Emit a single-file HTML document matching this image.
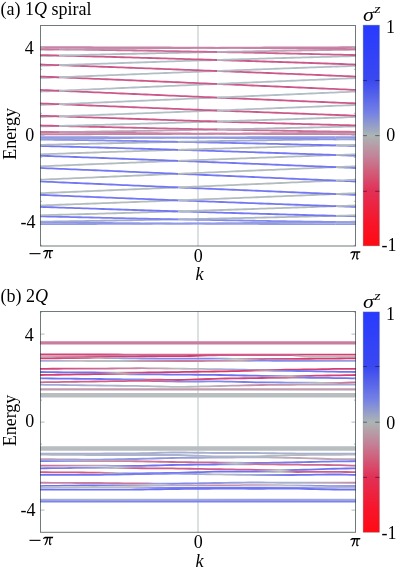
<!DOCTYPE html>
<html><head><meta charset="utf-8"><style>
html,body{margin:0;padding:0;background:#fff;width:397px;height:567px;overflow:hidden}
svg{position:absolute;left:0;top:0;display:block;will-change:transform}
</style></head><body>
<svg width="397" height="567" viewBox="0 0 397 567">
<defs><path id="pi" d="M0.1,2.3 C0.7,1.0 1.6,0.55 3.0,0.55 L9.9,0.55 L9.65,2.05 L7.5,2.05 C7.2,3.9 7.0,5.6 7.2,6.9 C7.35,7.5 7.8,7.5 8.1,7.0 L8.4,7.2 C8.0,8.2 7.4,8.6 6.8,8.45 C6.1,8.25 5.85,7.4 5.85,6.2 C5.85,4.8 6.05,3.4 6.25,2.05 L5.0,2.05 C4.6,4.6 3.7,6.8 2.7,8.2 C2.3,8.8 1.5,8.75 1.55,8.1 C2.55,6.3 3.35,4.3 3.65,2.05 L3.2,2.05 C2.1,2.05 1.2,2.3 0.5,2.7 Z"/><linearGradient id="cb1" x1="0" y1="0" x2="0" y2="1"><stop offset="0.00" stop-color="#283aff"/><stop offset="0.25" stop-color="#3a48f0"/><stop offset="0.40" stop-color="#7682e4"/><stop offset="0.50" stop-color="#acb4b4"/><stop offset="0.60" stop-color="#c48096"/><stop offset="0.75" stop-color="#e23056"/><stop offset="0.90" stop-color="#f81428"/><stop offset="1.00" stop-color="#ff0a14"/></linearGradient><linearGradient id="cb2" x1="0" y1="0" x2="0" y2="1"><stop offset="0.00" stop-color="#283aff"/><stop offset="0.25" stop-color="#3a48f0"/><stop offset="0.40" stop-color="#7682e4"/><stop offset="0.50" stop-color="#acb4b4"/><stop offset="0.60" stop-color="#c48096"/><stop offset="0.75" stop-color="#e23056"/><stop offset="0.90" stop-color="#f81428"/><stop offset="1.00" stop-color="#ff0a14"/></linearGradient><linearGradient id="g1" gradientUnits="userSpaceOnUse" x1="217.00" y1="0" x2="296.00" y2="0"><stop offset="0" stop-color="#c884a6"/><stop offset="0.5" stop-color="#c882a5"/><stop offset="1" stop-color="#c87ea2"/></linearGradient><linearGradient id="g2" gradientUnits="userSpaceOnUse" x1="296.00" y1="0" x2="356.00" y2="0"><stop offset="0" stop-color="#c87ea2"/><stop offset="0.5" stop-color="#c97ba0"/><stop offset="1" stop-color="#c9789e"/></linearGradient><linearGradient id="g3" gradientUnits="userSpaceOnUse" x1="40.00" y1="0" x2="59.00" y2="0"><stop offset="0" stop-color="#c9789e"/><stop offset="0.5" stop-color="#c9779e"/><stop offset="1" stop-color="#c9769d"/></linearGradient><linearGradient id="g4" gradientUnits="userSpaceOnUse" x1="59.00" y1="0" x2="138.00" y2="0"><stop offset="0" stop-color="#c9769d"/><stop offset="0.5" stop-color="#c9739b"/><stop offset="1" stop-color="#c96f98"/></linearGradient><linearGradient id="g5" gradientUnits="userSpaceOnUse" x1="138.00" y1="0" x2="217.00" y2="0"><stop offset="0" stop-color="#c96f98"/><stop offset="0.5" stop-color="#ca6b96"/><stop offset="1" stop-color="#ca6793"/></linearGradient><linearGradient id="g6" gradientUnits="userSpaceOnUse" x1="217.00" y1="0" x2="296.00" y2="0"><stop offset="0" stop-color="#ca6793"/><stop offset="0.5" stop-color="#ca6391"/><stop offset="1" stop-color="#ca608e"/></linearGradient><linearGradient id="g7" gradientUnits="userSpaceOnUse" x1="296.00" y1="0" x2="356.00" y2="0"><stop offset="0" stop-color="#ca608e"/><stop offset="0.5" stop-color="#cb5d8c"/><stop offset="1" stop-color="#cb5a8a"/></linearGradient><linearGradient id="g8" gradientUnits="userSpaceOnUse" x1="40.00" y1="0" x2="59.00" y2="0"><stop offset="0" stop-color="#cb5a8a"/><stop offset="0.5" stop-color="#cb5989"/><stop offset="1" stop-color="#cb5889"/></linearGradient><linearGradient id="g9" gradientUnits="userSpaceOnUse" x1="59.00" y1="0" x2="138.00" y2="0"><stop offset="0" stop-color="#cb5889"/><stop offset="0.5" stop-color="#cb5c8c"/><stop offset="1" stop-color="#ca608e"/></linearGradient><linearGradient id="g10" gradientUnits="userSpaceOnUse" x1="138.00" y1="0" x2="217.00" y2="0"><stop offset="0" stop-color="#ca608e"/><stop offset="0.5" stop-color="#ca6391"/><stop offset="1" stop-color="#ca6793"/></linearGradient><linearGradient id="g11" gradientUnits="userSpaceOnUse" x1="217.00" y1="0" x2="296.00" y2="0"><stop offset="0" stop-color="#ca6793"/><stop offset="0.5" stop-color="#ca6b96"/><stop offset="1" stop-color="#c96f98"/></linearGradient><linearGradient id="g12" gradientUnits="userSpaceOnUse" x1="296.00" y1="0" x2="356.00" y2="0"><stop offset="0" stop-color="#c96f98"/><stop offset="0.5" stop-color="#c9729a"/><stop offset="1" stop-color="#c9759c"/></linearGradient><linearGradient id="g13" gradientUnits="userSpaceOnUse" x1="40.00" y1="0" x2="59.00" y2="0"><stop offset="0" stop-color="#c9759c"/><stop offset="0.5" stop-color="#c9769d"/><stop offset="1" stop-color="#c9769d"/></linearGradient><linearGradient id="g14" gradientUnits="userSpaceOnUse" x1="59.00" y1="0" x2="138.00" y2="0"><stop offset="0" stop-color="#c9769d"/><stop offset="0.5" stop-color="#c97aa0"/><stop offset="1" stop-color="#c87ea2"/></linearGradient><linearGradient id="g15" gradientUnits="userSpaceOnUse" x1="138.00" y1="0" x2="217.00" y2="0"><stop offset="0" stop-color="#c87ea2"/><stop offset="0.5" stop-color="#c882a5"/><stop offset="1" stop-color="#c884a6"/></linearGradient><linearGradient id="g16" gradientUnits="userSpaceOnUse" x1="40.00" y1="0" x2="59.00" y2="0"><stop offset="0" stop-color="#c098b1"/><stop offset="0.5" stop-color="#c197b0"/><stop offset="1" stop-color="#c196b0"/></linearGradient><linearGradient id="g17" gradientUnits="userSpaceOnUse" x1="59.00" y1="0" x2="138.00" y2="0"><stop offset="0" stop-color="#c196b0"/><stop offset="0.5" stop-color="#c391ad"/><stop offset="1" stop-color="#c58caa"/></linearGradient><linearGradient id="g18" gradientUnits="userSpaceOnUse" x1="138.00" y1="0" x2="217.00" y2="0"><stop offset="0" stop-color="#c58caa"/><stop offset="0.5" stop-color="#c787a8"/><stop offset="1" stop-color="#c884a6"/></linearGradient><linearGradient id="g19" gradientUnits="userSpaceOnUse" x1="59.00" y1="0" x2="138.00" y2="0"><stop offset="0" stop-color="#b2bec6"/><stop offset="0.5" stop-color="#b4b9c3"/><stop offset="1" stop-color="#b6b4c0"/></linearGradient><linearGradient id="g20" gradientUnits="userSpaceOnUse" x1="138.00" y1="0" x2="217.00" y2="0"><stop offset="0" stop-color="#b6b4c0"/><stop offset="0.5" stop-color="#b8afbe"/><stop offset="1" stop-color="#baaabb"/></linearGradient><linearGradient id="g21" gradientUnits="userSpaceOnUse" x1="217.00" y1="0" x2="296.00" y2="0"><stop offset="0" stop-color="#baaabb"/><stop offset="0.5" stop-color="#bca5b8"/><stop offset="1" stop-color="#bda0b5"/></linearGradient><linearGradient id="g22" gradientUnits="userSpaceOnUse" x1="296.00" y1="0" x2="356.00" y2="0"><stop offset="0" stop-color="#bda0b5"/><stop offset="0.5" stop-color="#bf9cb3"/><stop offset="1" stop-color="#c098b1"/></linearGradient><linearGradient id="g23" gradientUnits="userSpaceOnUse" x1="40.00" y1="0" x2="59.00" y2="0"><stop offset="0" stop-color="#b3bcc5"/><stop offset="0.5" stop-color="#b2bdc5"/><stop offset="1" stop-color="#b2bec6"/></linearGradient><linearGradient id="g24" gradientUnits="userSpaceOnUse" x1="40.00" y1="0" x2="59.00" y2="0"><stop offset="0" stop-color="#c293af"/><stop offset="0.5" stop-color="#c295af"/><stop offset="1" stop-color="#c196b0"/></linearGradient><linearGradient id="g25" gradientUnits="userSpaceOnUse" x1="59.00" y1="0" x2="138.00" y2="0"><stop offset="0" stop-color="#c196b0"/><stop offset="0.5" stop-color="#bf9bb3"/><stop offset="1" stop-color="#bda0b5"/></linearGradient><linearGradient id="g26" gradientUnits="userSpaceOnUse" x1="138.00" y1="0" x2="217.00" y2="0"><stop offset="0" stop-color="#bda0b5"/><stop offset="0.5" stop-color="#bca5b8"/><stop offset="1" stop-color="#baaabb"/></linearGradient><linearGradient id="g27" gradientUnits="userSpaceOnUse" x1="217.00" y1="0" x2="296.00" y2="0"><stop offset="0" stop-color="#baaabb"/><stop offset="0.5" stop-color="#b8afbe"/><stop offset="1" stop-color="#b6b4c0"/></linearGradient><linearGradient id="g28" gradientUnits="userSpaceOnUse" x1="296.00" y1="0" x2="356.00" y2="0"><stop offset="0" stop-color="#b6b4c0"/><stop offset="0.5" stop-color="#b4b8c3"/><stop offset="1" stop-color="#b3bcc5"/></linearGradient><linearGradient id="g29" gradientUnits="userSpaceOnUse" x1="217.00" y1="0" x2="296.00" y2="0"><stop offset="0" stop-color="#c884a6"/><stop offset="0.5" stop-color="#c787a8"/><stop offset="1" stop-color="#c58caa"/></linearGradient><linearGradient id="g30" gradientUnits="userSpaceOnUse" x1="296.00" y1="0" x2="356.00" y2="0"><stop offset="0" stop-color="#c58caa"/><stop offset="0.5" stop-color="#c490ac"/><stop offset="1" stop-color="#c293af"/></linearGradient><linearGradient id="g31" gradientUnits="userSpaceOnUse" x1="178.00" y1="0" x2="257.00" y2="0"><stop offset="0" stop-color="#919be4"/><stop offset="0.5" stop-color="#9099e5"/><stop offset="1" stop-color="#8d96e6"/></linearGradient><linearGradient id="g32" gradientUnits="userSpaceOnUse" x1="257.00" y1="0" x2="336.00" y2="0"><stop offset="0" stop-color="#8d96e6"/><stop offset="0.5" stop-color="#8b93e7"/><stop offset="1" stop-color="#8890e9"/></linearGradient><linearGradient id="g33" gradientUnits="userSpaceOnUse" x1="336.00" y1="0" x2="356.00" y2="0"><stop offset="0" stop-color="#8890e9"/><stop offset="0.5" stop-color="#878fe9"/><stop offset="1" stop-color="#878ee9"/></linearGradient><linearGradient id="g34" gradientUnits="userSpaceOnUse" x1="40.00" y1="0" x2="99.00" y2="0"><stop offset="0" stop-color="#878ee9"/><stop offset="0.5" stop-color="#858cea"/><stop offset="1" stop-color="#838aeb"/></linearGradient><linearGradient id="g35" gradientUnits="userSpaceOnUse" x1="99.00" y1="0" x2="178.00" y2="0"><stop offset="0" stop-color="#838aeb"/><stop offset="0.5" stop-color="#8187ed"/><stop offset="1" stop-color="#7e83ee"/></linearGradient><linearGradient id="g36" gradientUnits="userSpaceOnUse" x1="178.00" y1="0" x2="257.00" y2="0"><stop offset="0" stop-color="#7e83ee"/><stop offset="0.5" stop-color="#7c80ef"/><stop offset="1" stop-color="#797df0"/></linearGradient><linearGradient id="g37" gradientUnits="userSpaceOnUse" x1="257.00" y1="0" x2="336.00" y2="0"><stop offset="0" stop-color="#797df0"/><stop offset="0.5" stop-color="#767af2"/><stop offset="1" stop-color="#7477f3"/></linearGradient><linearGradient id="g38" gradientUnits="userSpaceOnUse" x1="336.00" y1="0" x2="356.00" y2="0"><stop offset="0" stop-color="#7477f3"/><stop offset="0.5" stop-color="#7578f3"/><stop offset="1" stop-color="#7579f2"/></linearGradient><linearGradient id="g39" gradientUnits="userSpaceOnUse" x1="40.00" y1="0" x2="99.00" y2="0"><stop offset="0" stop-color="#7579f2"/><stop offset="0.5" stop-color="#777bf1"/><stop offset="1" stop-color="#797df0"/></linearGradient><linearGradient id="g40" gradientUnits="userSpaceOnUse" x1="99.00" y1="0" x2="178.00" y2="0"><stop offset="0" stop-color="#797df0"/><stop offset="0.5" stop-color="#7c80ef"/><stop offset="1" stop-color="#7e83ee"/></linearGradient><linearGradient id="g41" gradientUnits="userSpaceOnUse" x1="178.00" y1="0" x2="257.00" y2="0"><stop offset="0" stop-color="#7e83ee"/><stop offset="0.5" stop-color="#8187ed"/><stop offset="1" stop-color="#838aeb"/></linearGradient><linearGradient id="g42" gradientUnits="userSpaceOnUse" x1="257.00" y1="0" x2="336.00" y2="0"><stop offset="0" stop-color="#838aeb"/><stop offset="0.5" stop-color="#868dea"/><stop offset="1" stop-color="#8890e9"/></linearGradient><linearGradient id="g43" gradientUnits="userSpaceOnUse" x1="336.00" y1="0" x2="356.00" y2="0"><stop offset="0" stop-color="#8890e9"/><stop offset="0.5" stop-color="#8991e8"/><stop offset="1" stop-color="#8992e8"/></linearGradient><linearGradient id="g44" gradientUnits="userSpaceOnUse" x1="40.00" y1="0" x2="99.00" y2="0"><stop offset="0" stop-color="#8991e8"/><stop offset="0.5" stop-color="#8b94e7"/><stop offset="1" stop-color="#8d96e6"/></linearGradient><linearGradient id="g45" gradientUnits="userSpaceOnUse" x1="99.00" y1="0" x2="178.00" y2="0"><stop offset="0" stop-color="#8d96e6"/><stop offset="0.5" stop-color="#9099e5"/><stop offset="1" stop-color="#919be4"/></linearGradient><linearGradient id="g46" gradientUnits="userSpaceOnUse" x1="40.00" y1="0" x2="99.00" y2="0"><stop offset="0" stop-color="#9aa3da"/><stop offset="0.5" stop-color="#97a1dc"/><stop offset="1" stop-color="#959fdf"/></linearGradient><linearGradient id="g47" gradientUnits="userSpaceOnUse" x1="99.00" y1="0" x2="178.00" y2="0"><stop offset="0" stop-color="#959fdf"/><stop offset="0.5" stop-color="#939de2"/><stop offset="1" stop-color="#919be4"/></linearGradient><linearGradient id="g48" gradientUnits="userSpaceOnUse" x1="40.00" y1="0" x2="99.00" y2="0"><stop offset="0" stop-color="#b1babf"/><stop offset="0.5" stop-color="#aeb7c1"/><stop offset="1" stop-color="#acb5c4"/></linearGradient><linearGradient id="g49" gradientUnits="userSpaceOnUse" x1="99.00" y1="0" x2="178.00" y2="0"><stop offset="0" stop-color="#acb5c4"/><stop offset="0.5" stop-color="#a9b3c7"/><stop offset="1" stop-color="#a7b0ca"/></linearGradient><linearGradient id="g50" gradientUnits="userSpaceOnUse" x1="178.00" y1="0" x2="257.00" y2="0"><stop offset="0" stop-color="#a7b0ca"/><stop offset="0.5" stop-color="#a4adce"/><stop offset="1" stop-color="#a1aad1"/></linearGradient><linearGradient id="g51" gradientUnits="userSpaceOnUse" x1="257.00" y1="0" x2="336.00" y2="0"><stop offset="0" stop-color="#a1aad1"/><stop offset="0.5" stop-color="#9ea8d5"/><stop offset="1" stop-color="#9ba5d8"/></linearGradient><linearGradient id="g52" gradientUnits="userSpaceOnUse" x1="336.00" y1="0" x2="356.00" y2="0"><stop offset="0" stop-color="#9ba5d8"/><stop offset="0.5" stop-color="#9aa4d9"/><stop offset="1" stop-color="#9aa3da"/></linearGradient><linearGradient id="g53" gradientUnits="userSpaceOnUse" x1="336.00" y1="0" x2="356.00" y2="0"><stop offset="0" stop-color="#b2bbbd"/><stop offset="0.5" stop-color="#b1babe"/><stop offset="1" stop-color="#b1babf"/></linearGradient><linearGradient id="g54" gradientUnits="userSpaceOnUse" x1="40.00" y1="0" x2="99.00" y2="0"><stop offset="0" stop-color="#9da6d6"/><stop offset="0.5" stop-color="#9fa8d4"/><stop offset="1" stop-color="#a1aad1"/></linearGradient><linearGradient id="g55" gradientUnits="userSpaceOnUse" x1="99.00" y1="0" x2="178.00" y2="0"><stop offset="0" stop-color="#a1aad1"/><stop offset="0.5" stop-color="#a4adce"/><stop offset="1" stop-color="#a7b0ca"/></linearGradient><linearGradient id="g56" gradientUnits="userSpaceOnUse" x1="178.00" y1="0" x2="257.00" y2="0"><stop offset="0" stop-color="#a7b0ca"/><stop offset="0.5" stop-color="#a9b3c7"/><stop offset="1" stop-color="#acb5c4"/></linearGradient><linearGradient id="g57" gradientUnits="userSpaceOnUse" x1="257.00" y1="0" x2="336.00" y2="0"><stop offset="0" stop-color="#acb5c4"/><stop offset="0.5" stop-color="#afb8c0"/><stop offset="1" stop-color="#b2bbbd"/></linearGradient><linearGradient id="g58" gradientUnits="userSpaceOnUse" x1="178.00" y1="0" x2="257.00" y2="0"><stop offset="0" stop-color="#919be4"/><stop offset="0.5" stop-color="#939de2"/><stop offset="1" stop-color="#959fdf"/></linearGradient><linearGradient id="g59" gradientUnits="userSpaceOnUse" x1="257.00" y1="0" x2="336.00" y2="0"><stop offset="0" stop-color="#959fdf"/><stop offset="0.5" stop-color="#98a2db"/><stop offset="1" stop-color="#9ba5d8"/></linearGradient><linearGradient id="g60" gradientUnits="userSpaceOnUse" x1="336.00" y1="0" x2="356.00" y2="0"><stop offset="0" stop-color="#9ba5d8"/><stop offset="0.5" stop-color="#9ca6d7"/><stop offset="1" stop-color="#9da6d6"/></linearGradient><linearGradient id="pb1" gradientUnits="userSpaceOnUse" x1="40.0" y1="0" x2="356.0" y2="0"><stop offset="0.0000" stop-color="#d73e70"/><stop offset="0.0016" stop-color="#d73e70"/><stop offset="0.1899" stop-color="#d54879"/><stop offset="0.2848" stop-color="#cc6b93"/><stop offset="0.5063" stop-color="#cc6b93"/><stop offset="0.6013" stop-color="#d25281"/><stop offset="0.6962" stop-color="#d73e70"/><stop offset="0.9984" stop-color="#d73e70"/><stop offset="1.0000" stop-color="#d73e70"/></linearGradient><linearGradient id="pb2" gradientUnits="userSpaceOnUse" x1="40.0" y1="0" x2="356.0" y2="0"><stop offset="0.0000" stop-color="#b8bdc0"/><stop offset="0.0016" stop-color="#b8bcc0"/><stop offset="0.1266" stop-color="#c87b9c"/><stop offset="0.2215" stop-color="#d73e70"/><stop offset="0.3481" stop-color="#db386a"/><stop offset="0.4905" stop-color="#db386a"/><stop offset="0.5380" stop-color="#d25281"/><stop offset="0.6013" stop-color="#d05c8a"/><stop offset="0.7911" stop-color="#d05c8a"/><stop offset="0.8386" stop-color="#b8bdc0"/><stop offset="0.9984" stop-color="#b8bdc0"/><stop offset="1.0000" stop-color="#b8bdc0"/></linearGradient><linearGradient id="pb3" gradientUnits="userSpaceOnUse" x1="40.0" y1="0" x2="356.0" y2="0"><stop offset="0.0000" stop-color="#db386a"/><stop offset="0.0016" stop-color="#db396b"/><stop offset="0.1108" stop-color="#d25281"/><stop offset="0.1899" stop-color="#c09bae"/><stop offset="0.2532" stop-color="#989fdd"/><stop offset="0.3797" stop-color="#7e85eb"/><stop offset="0.5380" stop-color="#7e85eb"/><stop offset="0.6171" stop-color="#b8bdc0"/><stop offset="0.6804" stop-color="#c87b9c"/><stop offset="0.7278" stop-color="#d05c8a"/><stop offset="0.8228" stop-color="#d73e70"/><stop offset="0.9984" stop-color="#db386a"/><stop offset="1.0000" stop-color="#db386a"/></linearGradient><linearGradient id="pb4" gradientUnits="userSpaceOnUse" x1="40.0" y1="0" x2="356.0" y2="0"><stop offset="0.0000" stop-color="#a0a8d7"/><stop offset="0.0016" stop-color="#a0a8d7"/><stop offset="0.1266" stop-color="#b8bdc0"/><stop offset="0.2532" stop-color="#b8bdc0"/><stop offset="0.3165" stop-color="#c09bae"/><stop offset="0.4430" stop-color="#c87b9c"/><stop offset="0.5696" stop-color="#c48aa5"/><stop offset="0.6329" stop-color="#bcacb7"/><stop offset="0.6962" stop-color="#7e85eb"/><stop offset="0.8228" stop-color="#878ee8"/><stop offset="0.9984" stop-color="#989fdd"/><stop offset="1.0000" stop-color="#989fdd"/></linearGradient><linearGradient id="pb5" gradientUnits="userSpaceOnUse" x1="40.0" y1="0" x2="356.0" y2="0"><stop offset="0.0000" stop-color="#d73e70"/><stop offset="0.0016" stop-color="#d73e70"/><stop offset="0.1899" stop-color="#cc6b93"/><stop offset="0.3165" stop-color="#c48aa5"/><stop offset="0.4430" stop-color="#b8bdc0"/><stop offset="0.5696" stop-color="#a8afcf"/><stop offset="0.6487" stop-color="#989fdd"/><stop offset="0.7120" stop-color="#c87b9c"/><stop offset="0.7595" stop-color="#d73e70"/><stop offset="0.9984" stop-color="#d73e70"/><stop offset="1.0000" stop-color="#d73e70"/></linearGradient><linearGradient id="pb6" gradientUnits="userSpaceOnUse" x1="40.0" y1="0" x2="356.0" y2="0"><stop offset="0.0000" stop-color="#6c72f2"/><stop offset="0.0016" stop-color="#6c72f2"/><stop offset="0.1899" stop-color="#6c72f2"/><stop offset="0.2468" stop-color="#b8bdc0"/><stop offset="0.2848" stop-color="#d05c8a"/><stop offset="0.3481" stop-color="#db386a"/><stop offset="0.5696" stop-color="#db386a"/><stop offset="0.6487" stop-color="#d73e70"/><stop offset="0.7120" stop-color="#c09bae"/><stop offset="0.7911" stop-color="#757bef"/><stop offset="0.9984" stop-color="#6c72f2"/><stop offset="1.0000" stop-color="#6c72f2"/></linearGradient><linearGradient id="pb7" gradientUnits="userSpaceOnUse" x1="40.0" y1="0" x2="356.0" y2="0"><stop offset="0.0000" stop-color="#d73e70"/><stop offset="0.0016" stop-color="#d73e70"/><stop offset="0.1899" stop-color="#d73e70"/><stop offset="0.2690" stop-color="#c09bae"/><stop offset="0.3165" stop-color="#757bef"/><stop offset="0.4430" stop-color="#6c72f2"/><stop offset="0.6962" stop-color="#6c72f2"/><stop offset="0.7911" stop-color="#b8bdc0"/><stop offset="0.8544" stop-color="#d54879"/><stop offset="0.9984" stop-color="#d73e70"/><stop offset="1.0000" stop-color="#d73e70"/></linearGradient><linearGradient id="pb8" gradientUnits="userSpaceOnUse" x1="40.0" y1="0" x2="356.0" y2="0"><stop offset="0.0000" stop-color="#6c72f2"/><stop offset="0.0016" stop-color="#6c72f2"/><stop offset="0.1899" stop-color="#6c72f2"/><stop offset="0.3165" stop-color="#878ee8"/><stop offset="0.3481" stop-color="#d05c8a"/><stop offset="0.4430" stop-color="#d73e70"/><stop offset="0.5696" stop-color="#d54879"/><stop offset="0.6962" stop-color="#d73e70"/><stop offset="0.7911" stop-color="#c87b9c"/><stop offset="0.8386" stop-color="#757bef"/><stop offset="0.9984" stop-color="#6c72f2"/><stop offset="1.0000" stop-color="#6c72f2"/></linearGradient><linearGradient id="pb9" gradientUnits="userSpaceOnUse" x1="40.0" y1="0" x2="356.0" y2="0"><stop offset="0.0000" stop-color="#cc6b93"/><stop offset="0.0016" stop-color="#cc6b93"/><stop offset="0.1899" stop-color="#d05c8a"/><stop offset="0.3481" stop-color="#d05c8a"/><stop offset="0.4589" stop-color="#878ee8"/><stop offset="0.5696" stop-color="#7e85eb"/><stop offset="0.6962" stop-color="#757bef"/><stop offset="0.8228" stop-color="#989fdd"/><stop offset="0.8861" stop-color="#b8bdc0"/><stop offset="0.9652" stop-color="#c87b9c"/><stop offset="0.9984" stop-color="#cc6c93"/><stop offset="1.0000" stop-color="#cc6b93"/></linearGradient><linearGradient id="pb10" gradientUnits="userSpaceOnUse" x1="40.0" y1="0" x2="356.0" y2="0"><stop offset="0.0000" stop-color="#a0a8d7"/><stop offset="0.0016" stop-color="#a0a8d7"/><stop offset="0.1899" stop-color="#a8afcf"/><stop offset="0.3165" stop-color="#b0b6c8"/><stop offset="0.4430" stop-color="#b8bdc0"/><stop offset="0.5696" stop-color="#bcacb7"/><stop offset="0.6962" stop-color="#c48aa5"/><stop offset="0.8228" stop-color="#c09bae"/><stop offset="0.9984" stop-color="#a0a8d7"/><stop offset="1.0000" stop-color="#a0a8d7"/></linearGradient><linearGradient id="pb11" gradientUnits="userSpaceOnUse" x1="40.0" y1="0" x2="356.0" y2="0"><stop offset="0.0000" stop-color="#b0b6c8"/><stop offset="0.0016" stop-color="#b0b6c8"/><stop offset="0.4304" stop-color="#abb2cc"/><stop offset="0.6835" stop-color="#b8bdc0"/><stop offset="0.9984" stop-color="#b0b6c8"/><stop offset="1.0000" stop-color="#b0b6c8"/></linearGradient><linearGradient id="pb12" gradientUnits="userSpaceOnUse" x1="40.0" y1="0" x2="356.0" y2="0"><stop offset="0.0000" stop-color="#bea4b2"/><stop offset="0.0016" stop-color="#bea4b3"/><stop offset="0.1709" stop-color="#989fdd"/><stop offset="0.2975" stop-color="#8f97e2"/><stop offset="0.4304" stop-color="#8f97e2"/><stop offset="0.5570" stop-color="#a8afcf"/><stop offset="0.6835" stop-color="#b0b6c8"/><stop offset="0.8101" stop-color="#bda9b5"/><stop offset="0.9367" stop-color="#bea4b2"/><stop offset="0.9984" stop-color="#bea4b2"/><stop offset="1.0000" stop-color="#bea4b2"/></linearGradient><linearGradient id="pb13" gradientUnits="userSpaceOnUse" x1="40.0" y1="0" x2="356.0" y2="0"><stop offset="0.0000" stop-color="#757bef"/><stop offset="0.0016" stop-color="#767cee"/><stop offset="0.0949" stop-color="#989fdd"/><stop offset="0.1709" stop-color="#c197ac"/><stop offset="0.2975" stop-color="#c77e9e"/><stop offset="0.4304" stop-color="#cd6891"/><stop offset="0.5570" stop-color="#cd6891"/><stop offset="0.6203" stop-color="#b8bdc0"/><stop offset="0.6835" stop-color="#757bef"/><stop offset="0.9984" stop-color="#757bef"/><stop offset="1.0000" stop-color="#757bef"/></linearGradient><linearGradient id="pb14" gradientUnits="userSpaceOnUse" x1="40.0" y1="0" x2="356.0" y2="0"><stop offset="0.0000" stop-color="#cd6891"/><stop offset="0.0016" stop-color="#cd6891"/><stop offset="0.1709" stop-color="#bea4b2"/><stop offset="0.2373" stop-color="#989fdd"/><stop offset="0.2975" stop-color="#6c72f2"/><stop offset="0.5570" stop-color="#6c72f2"/><stop offset="0.6203" stop-color="#a8afcf"/><stop offset="0.6835" stop-color="#ca7398"/><stop offset="0.8101" stop-color="#cd6891"/><stop offset="0.9984" stop-color="#cd6891"/><stop offset="1.0000" stop-color="#cd6891"/></linearGradient><linearGradient id="pb15" gradientUnits="userSpaceOnUse" x1="40.0" y1="0" x2="356.0" y2="0"><stop offset="0.0000" stop-color="#6c72f2"/><stop offset="0.0016" stop-color="#6c72f2"/><stop offset="0.1709" stop-color="#8f97e2"/><stop offset="0.2373" stop-color="#b8bdc0"/><stop offset="0.2975" stop-color="#d05c8a"/><stop offset="0.6835" stop-color="#d05c8a"/><stop offset="0.7595" stop-color="#b8bdc0"/><stop offset="0.8101" stop-color="#6c72f2"/><stop offset="0.9984" stop-color="#6c72f2"/><stop offset="1.0000" stop-color="#6c72f2"/></linearGradient><linearGradient id="pb16" gradientUnits="userSpaceOnUse" x1="40.0" y1="0" x2="356.0" y2="0"><stop offset="0.0000" stop-color="#d05c8a"/><stop offset="0.0016" stop-color="#d05c8a"/><stop offset="0.1709" stop-color="#d05c8a"/><stop offset="0.2532" stop-color="#b8bdc0"/><stop offset="0.2975" stop-color="#757bef"/><stop offset="0.4304" stop-color="#6c72f2"/><stop offset="0.6835" stop-color="#6c72f2"/><stop offset="0.7595" stop-color="#b8bdc0"/><stop offset="0.8101" stop-color="#d05c8a"/><stop offset="0.9984" stop-color="#d05c8a"/><stop offset="1.0000" stop-color="#d05c8a"/></linearGradient><linearGradient id="pb17" gradientUnits="userSpaceOnUse" x1="40.0" y1="0" x2="356.0" y2="0"><stop offset="0.0000" stop-color="#6c72f2"/><stop offset="0.0016" stop-color="#6c72f2"/><stop offset="0.1709" stop-color="#6c72f2"/><stop offset="0.2975" stop-color="#757bef"/><stop offset="0.4304" stop-color="#878ee8"/><stop offset="0.5570" stop-color="#b8bdc0"/><stop offset="0.6835" stop-color="#a0a8d7"/><stop offset="0.8101" stop-color="#6c72f2"/><stop offset="0.9984" stop-color="#6c72f2"/><stop offset="1.0000" stop-color="#6c72f2"/></linearGradient><linearGradient id="pb18" gradientUnits="userSpaceOnUse" x1="40.0" y1="0" x2="356.0" y2="0"><stop offset="0.0000" stop-color="#6c72f2"/><stop offset="0.0016" stop-color="#6c72f2"/><stop offset="0.1709" stop-color="#6c72f2"/><stop offset="0.2532" stop-color="#878ee8"/><stop offset="0.3481" stop-color="#b8bdc0"/><stop offset="0.4304" stop-color="#bda9b5"/><stop offset="0.5570" stop-color="#c48aa5"/><stop offset="0.6835" stop-color="#c197ac"/><stop offset="0.7911" stop-color="#b8bdc0"/><stop offset="0.8861" stop-color="#878ee8"/><stop offset="0.9984" stop-color="#6c72f2"/><stop offset="1.0000" stop-color="#6c72f2"/></linearGradient><linearGradient id="pb19" gradientUnits="userSpaceOnUse" x1="40.0" y1="0" x2="356.0" y2="0"><stop offset="0.0000" stop-color="#c48aa5"/><stop offset="0.0016" stop-color="#c48aa5"/><stop offset="0.1709" stop-color="#c77e9e"/><stop offset="0.2975" stop-color="#ca7398"/><stop offset="0.3797" stop-color="#989fdd"/><stop offset="0.4304" stop-color="#7e85eb"/><stop offset="0.5570" stop-color="#8f97e2"/><stop offset="0.6835" stop-color="#a0a8d7"/><stop offset="0.8101" stop-color="#abb2cc"/><stop offset="0.9367" stop-color="#bea4b2"/><stop offset="0.9984" stop-color="#c48ba5"/><stop offset="1.0000" stop-color="#c48aa5"/></linearGradient><linearGradient id="pb20" gradientUnits="userSpaceOnUse" x1="40.0" y1="0" x2="356.0" y2="0"><stop offset="0.0000" stop-color="#b8bdc0"/><stop offset="0.0016" stop-color="#b8bdc0"/><stop offset="0.2975" stop-color="#b8bdc0"/><stop offset="0.3797" stop-color="#878ee8"/><stop offset="0.4304" stop-color="#757bef"/><stop offset="0.6835" stop-color="#757bef"/><stop offset="0.8101" stop-color="#878ee8"/><stop offset="0.8861" stop-color="#a8afcf"/><stop offset="0.9984" stop-color="#b8bdc0"/><stop offset="1.0000" stop-color="#b8bdc0"/></linearGradient><linearGradient id="pb21" gradientUnits="userSpaceOnUse" x1="40.0" y1="0" x2="356.0" y2="0"><stop offset="0.0000" stop-color="#a5acd2"/><stop offset="0.0016" stop-color="#a5acd2"/><stop offset="0.1899" stop-color="#abb2cc"/><stop offset="0.4430" stop-color="#a5acd2"/><stop offset="0.6962" stop-color="#989fdd"/><stop offset="0.9984" stop-color="#a5acd2"/><stop offset="1.0000" stop-color="#a5acd2"/></linearGradient></defs>
<line x1="198" y1="25.5" x2="198" y2="246.0" stroke="#d2dada" stroke-width="1.6"/>
<g fill="none" stroke-width="1.8" stroke-linecap="butt"><path d="M59.0 47.25 L63.0 47.25 L66.9 47.25 L70.8 47.25 L74.8 47.26 L78.8 47.26 L82.7 47.26 L86.7 47.27 L90.6 47.27 L94.5 47.28 L98.5 47.28 L102.5 47.29 L106.4 47.30 L110.3 47.31 L114.3 47.32 L118.2 47.33 L122.2 47.34 L126.2 47.35 L130.1 47.36 L134.1 47.37 L138.0 47.38" stroke="#c884a6"/><path d="M217.0 47.79 L220.9 47.81 L224.9 47.84 L228.8 47.87 L232.8 47.90 L236.8 47.93 L240.7 47.96 L244.7 47.99 L248.6 48.02 L252.6 48.06 L256.5 48.09 L260.4 48.12 L264.4 48.16 L268.4 48.19 L272.3 48.23 L276.2 48.26 L280.2 48.30 L284.1 48.34 L288.1 48.38 L292.1 48.42 L296.0 48.46" stroke="url(#g1)"/><path d="M59.0 49.38 L63.0 49.43 L66.9 49.49 L70.8 49.54 L74.8 49.60 L78.8 49.65 L82.7 49.71 L86.7 49.76 L90.6 49.82 L94.5 49.88 L98.5 49.94 L102.5 50.00 L106.4 50.06 L110.3 50.12 L114.3 50.18 L118.2 50.24 L122.2 50.31 L126.2 50.37 L130.1 50.43 L134.1 50.50 L138.0 50.56" stroke="url(#g4)"/><path d="M217.0 52.00 L220.9 52.07 L224.9 52.15 L228.8 52.23 L232.8 52.31 L236.8 52.39 L240.7 52.47 L244.7 52.55 L248.6 52.64 L252.6 52.72 L256.5 52.80 L260.4 52.89 L264.4 52.97 L268.4 53.06 L272.3 53.14 L276.2 53.23 L280.2 53.32 L284.1 53.40 L288.1 53.49 L292.1 53.58 L296.0 53.67" stroke="url(#g6)"/><path d="M59.0 55.56 L63.0 55.66 L66.9 55.76 L70.8 55.86 L74.8 55.96 L78.8 56.07 L82.7 56.17 L86.7 56.27 L90.6 56.38 L94.5 56.48 L98.5 56.59 L102.5 56.70 L106.4 56.80 L110.3 56.91 L114.3 57.02 L118.2 57.13 L122.2 57.24 L126.2 57.34 L130.1 57.45 L134.1 57.56 L138.0 57.68" stroke="#cb5889"/><path d="M217.0 60.00 L220.9 60.12 L224.9 60.24 L228.8 60.36 L232.8 60.49 L236.8 60.61 L240.7 60.73 L244.7 60.86 L248.6 60.98 L252.6 61.11 L256.5 61.23 L260.4 61.36 L264.4 61.48 L268.4 61.61 L272.3 61.74 L276.2 61.87 L280.2 61.99 L284.1 62.12 L288.1 62.25 L292.1 62.38 L296.0 62.51" stroke="#cb5889"/><path d="M59.0 65.18 L63.0 65.32 L66.9 65.46 L70.8 65.60 L74.8 65.74 L78.8 65.88 L82.7 66.02 L86.7 66.16 L90.6 66.30 L94.5 66.44 L98.5 66.58 L102.5 66.73 L106.4 66.87 L110.3 67.01 L114.3 67.16 L118.2 67.30 L122.2 67.45 L126.2 67.59 L130.1 67.73 L134.1 67.88 L138.0 68.03" stroke="#cb5889"/><path d="M217.0 71.01 L220.9 71.16 L224.9 71.32 L228.8 71.47 L232.8 71.62 L236.8 71.78 L240.7 71.93 L244.7 72.09 L248.6 72.24 L252.6 72.40 L256.5 72.55 L260.4 72.71 L264.4 72.86 L268.4 73.02 L272.3 73.17 L276.2 73.33 L280.2 73.49 L284.1 73.65 L288.1 73.80 L292.1 73.96 L296.0 74.12" stroke="#cb5889"/><path d="M59.0 77.31 L63.0 77.47 L66.9 77.63 L70.8 77.80 L74.8 77.96 L78.8 78.12 L82.7 78.29 L86.7 78.45 L90.6 78.62 L94.5 78.78 L98.5 78.94 L102.5 79.11 L106.4 79.27 L110.3 79.44 L114.3 79.61 L118.2 79.77 L122.2 79.94 L126.2 80.10 L130.1 80.27 L134.1 80.43 L138.0 80.60" stroke="#cb5889"/><path d="M217.0 83.96 L220.9 84.12 L224.9 84.29 L228.8 84.46 L232.8 84.63 L236.8 84.80 L240.7 84.97 L244.7 85.14 L248.6 85.31 L252.6 85.48 L256.5 85.65 L260.4 85.82 L264.4 85.99 L268.4 86.16 L272.3 86.33 L276.2 86.50 L280.2 86.67 L284.1 86.84 L288.1 87.01 L292.1 87.18 L296.0 87.35" stroke="#cb5889"/><path d="M59.0 90.75 L63.0 90.92 L66.9 91.09 L70.8 91.26 L74.8 91.43 L78.8 91.61 L82.7 91.78 L86.7 91.95 L90.6 92.12 L94.5 92.29 L98.5 92.46 L102.5 92.63 L106.4 92.80 L110.3 92.97 L114.3 93.14 L118.2 93.31 L122.2 93.49 L126.2 93.66 L130.1 93.83 L134.1 94.00 L138.0 94.17" stroke="#cb5889"/><path d="M217.0 97.57 L220.9 97.73 L224.9 97.90 L228.8 98.07 L232.8 98.24 L236.8 98.41 L240.7 98.58 L244.7 98.75 L248.6 98.91 L252.6 99.08 L256.5 99.25 L260.4 99.42 L264.4 99.59 L268.4 99.75 L272.3 99.92 L276.2 100.09 L280.2 100.25 L284.1 100.42 L288.1 100.59 L292.1 100.75 L296.0 100.92" stroke="#cb5889"/><path d="M59.0 104.19 L63.0 104.35 L66.9 104.52 L70.8 104.68 L74.8 104.84 L78.8 105.00 L82.7 105.16 L86.7 105.33 L90.6 105.49 L94.5 105.65 L98.5 105.81 L102.5 105.97 L106.4 106.13 L110.3 106.29 L114.3 106.45 L118.2 106.61 L122.2 106.77 L126.2 106.93 L130.1 107.09 L134.1 107.24 L138.0 107.40" stroke="#cb5889"/><path d="M217.0 110.51 L220.9 110.66 L224.9 110.81 L228.8 110.96 L232.8 111.12 L236.8 111.27 L240.7 111.42 L244.7 111.57 L248.6 111.72 L252.6 111.87 L256.5 112.02 L260.4 112.17 L264.4 112.31 L268.4 112.46 L272.3 112.61 L276.2 112.76 L280.2 112.91 L284.1 113.05 L288.1 113.20 L292.1 113.35 L296.0 113.49" stroke="#cb5889"/><path d="M59.0 116.32 L63.0 116.46 L66.9 116.59 L70.8 116.73 L74.8 116.87 L78.8 117.01 L82.7 117.14 L86.7 117.28 L90.6 117.41 L94.5 117.55 L98.5 117.68 L102.5 117.82 L106.4 117.95 L110.3 118.08 L114.3 118.22 L118.2 118.35 L122.2 118.48 L126.2 118.61 L130.1 118.74 L134.1 118.87 L138.0 119.01" stroke="#cb5889"/><path d="M217.0 121.52 L220.9 121.64 L224.9 121.76 L228.8 121.88 L232.8 122.00 L236.8 122.12 L240.7 122.23 L244.7 122.35 L248.6 122.47 L252.6 122.59 L256.5 122.70 L260.4 122.82 L264.4 122.93 L268.4 123.05 L272.3 123.16 L276.2 123.28 L280.2 123.39 L284.1 123.50 L288.1 123.62 L292.1 123.73 L296.0 123.84" stroke="#cb5889"/><path d="M59.0 125.94 L63.0 126.04 L66.9 126.14 L70.8 126.24 L74.8 126.34 L78.8 126.44 L82.7 126.54 L86.7 126.63 L90.6 126.73 L94.5 126.83 L98.5 126.92 L102.5 127.02 L106.4 127.11 L110.3 127.20 L114.3 127.30 L118.2 127.39 L122.2 127.48 L126.2 127.57 L130.1 127.66 L134.1 127.75 L138.0 127.84" stroke="url(#g9)"/><path d="M217.0 129.51 L220.9 129.59 L224.9 129.67 L228.8 129.74 L232.8 129.82 L236.8 129.89 L240.7 129.97 L244.7 130.04 L248.6 130.12 L252.6 130.19 L256.5 130.26 L260.4 130.33 L264.4 130.40 L268.4 130.47 L272.3 130.54 L276.2 130.61 L280.2 130.68 L284.1 130.75 L288.1 130.81 L292.1 130.88 L296.0 130.94" stroke="url(#g11)"/><path d="M59.0 132.12 L63.0 132.17 L66.9 132.23 L70.8 132.28 L74.8 132.33 L78.8 132.38 L82.7 132.43 L86.7 132.48 L90.6 132.52 L94.5 132.57 L98.5 132.62 L102.5 132.66 L106.4 132.71 L110.3 132.75 L114.3 132.80 L118.2 132.84 L122.2 132.88 L126.2 132.93 L130.1 132.97 L134.1 133.01 L138.0 133.05" stroke="url(#g14)"/><path d="M217.0 133.72 L220.9 133.74 L224.9 133.77 L228.8 133.79 L232.8 133.82 L236.8 133.84 L240.7 133.86 L244.7 133.89 L248.6 133.91 L252.6 133.93 L256.5 133.95 L260.4 133.97 L264.4 133.99 L268.4 134.01 L272.3 134.02 L276.2 134.04 L280.2 134.06 L284.1 134.07 L288.1 134.09 L292.1 134.10 L296.0 134.12" stroke="#c884a6"/><path d="M40.0 47.26 L43.8 47.25 L47.6 47.25 L51.4 47.25 L55.2 47.25 L59.0 47.25" stroke="#c884a6"/><path d="M40.0 49.64 L43.8 49.59 L47.6 49.53 L51.4 49.48 L55.2 49.43 L59.0 49.38" stroke="url(#g16)"/><path d="M138.0 48.45 L141.9 48.41 L145.9 48.37 L149.8 48.33 L153.8 48.30 L157.8 48.26 L161.7 48.22 L165.7 48.19 L169.6 48.15 L173.6 48.12 L177.5 48.08 L181.4 48.05 L185.4 48.02 L189.3 47.99 L193.3 47.96 L197.2 47.93 L201.2 47.90 L205.2 47.87 L209.1 47.84 L213.1 47.81 L217.0 47.78" stroke="url(#g18)"/><path d="M296.0 47.38 L299.8 47.37 L303.5 47.36 L307.2 47.35 L311.0 47.34 L314.8 47.33 L318.5 47.32 L322.2 47.31 L326.0 47.30 L329.8 47.29 L333.5 47.29 L337.2 47.28 L341.0 47.27 L344.8 47.27 L348.5 47.26 L352.2 47.26 L356.0 47.26" stroke="#c884a6"/><path d="M40.0 56.05 L43.8 55.95 L47.6 55.85 L51.4 55.75 L55.2 55.65 L59.0 55.56" stroke="#b2bec6"/><path d="M138.0 53.66 L141.9 53.57 L145.9 53.48 L149.8 53.39 L153.8 53.30 L157.8 53.22 L161.7 53.13 L165.7 53.05 L169.6 52.96 L173.6 52.88 L177.5 52.79 L181.4 52.71 L185.4 52.63 L189.3 52.54 L193.3 52.46 L197.2 52.38 L201.2 52.30 L205.2 52.22 L209.1 52.14 L213.1 52.06 L217.0 51.99" stroke="url(#g20)"/><path d="M296.0 50.56 L299.8 50.49 L303.5 50.43 L307.2 50.37 L311.0 50.31 L314.8 50.25 L318.5 50.19 L322.2 50.13 L326.0 50.08 L329.8 50.02 L333.5 49.96 L337.2 49.91 L341.0 49.85 L344.8 49.80 L348.5 49.74 L352.2 49.69 L356.0 49.63" stroke="url(#g22)"/><path d="M40.0 65.85 L43.8 65.72 L47.6 65.58 L51.4 65.45 L55.2 65.31 L59.0 65.18" stroke="#b2bec6"/><path d="M138.0 62.49 L141.9 62.37 L145.9 62.24 L149.8 62.11 L153.8 61.98 L157.8 61.85 L161.7 61.72 L165.7 61.60 L169.6 61.47 L173.6 61.34 L177.5 61.22 L181.4 61.09 L185.4 60.97 L189.3 60.84 L193.3 60.72 L197.2 60.59 L201.2 60.47 L205.2 60.35 L209.1 60.23 L213.1 60.10 L217.0 59.98" stroke="#b2bec6"/><path d="M296.0 57.66 L299.8 57.56 L303.5 57.45 L307.2 57.35 L311.0 57.24 L314.8 57.14 L318.5 57.04 L322.2 56.94 L326.0 56.83 L329.8 56.73 L333.5 56.63 L337.2 56.53 L341.0 56.43 L344.8 56.33 L348.5 56.23 L352.2 56.13 L356.0 56.03" stroke="#b2bec6"/><path d="M40.0 78.09 L43.8 77.94 L47.6 77.78 L51.4 77.62 L55.2 77.46 L59.0 77.31" stroke="#b2bec6"/><path d="M138.0 74.10 L141.9 73.94 L145.9 73.78 L149.8 73.63 L153.8 73.47 L157.8 73.31 L161.7 73.15 L165.7 73.00 L169.6 72.84 L173.6 72.69 L177.5 72.53 L181.4 72.38 L185.4 72.22 L189.3 72.07 L193.3 71.91 L197.2 71.76 L201.2 71.60 L205.2 71.45 L209.1 71.30 L213.1 71.14 L217.0 70.99" stroke="#b2bec6"/><path d="M296.0 68.01 L299.8 67.87 L303.5 67.73 L307.2 67.59 L311.0 67.46 L314.8 67.32 L318.5 67.18 L322.2 67.05 L326.0 66.91 L329.8 66.77 L333.5 66.64 L337.2 66.50 L341.0 66.37 L344.8 66.23 L348.5 66.10 L352.2 65.97 L356.0 65.83" stroke="#b2bec6"/><path d="M40.0 91.57 L43.8 91.41 L47.6 91.24 L51.4 91.08 L55.2 90.91 L59.0 90.75" stroke="#b2bec6"/><path d="M138.0 87.33 L141.9 87.16 L145.9 86.99 L149.8 86.82 L153.8 86.65 L157.8 86.48 L161.7 86.31 L165.7 86.14 L169.6 85.97 L173.6 85.80 L177.5 85.63 L181.4 85.46 L185.4 85.29 L189.3 85.12 L193.3 84.95 L197.2 84.78 L201.2 84.61 L205.2 84.44 L209.1 84.27 L213.1 84.10 L217.0 83.93" stroke="#b2bec6"/><path d="M296.0 80.58 L299.8 80.42 L303.5 80.26 L307.2 80.11 L311.0 79.95 L314.8 79.79 L318.5 79.63 L322.2 79.48 L326.0 79.32 L329.8 79.16 L333.5 79.01 L337.2 78.85 L341.0 78.70 L344.8 78.54 L348.5 78.38 L352.2 78.23 L356.0 78.07" stroke="#b2bec6"/><path d="M40.0 104.97 L43.8 104.82 L47.6 104.66 L51.4 104.50 L55.2 104.35 L59.0 104.19" stroke="#b2bec6"/><path d="M138.0 100.90 L141.9 100.73 L145.9 100.57 L149.8 100.40 L153.8 100.23 L157.8 100.07 L161.7 99.90 L165.7 99.73 L169.6 99.56 L173.6 99.40 L177.5 99.23 L181.4 99.06 L185.4 98.89 L189.3 98.72 L193.3 98.56 L197.2 98.39 L201.2 98.22 L205.2 98.05 L209.1 97.88 L213.1 97.71 L217.0 97.54" stroke="#b2bec6"/><path d="M296.0 94.15 L299.8 93.98 L303.5 93.82 L307.2 93.66 L311.0 93.50 L314.8 93.34 L318.5 93.17 L322.2 93.01 L326.0 92.85 L329.8 92.69 L333.5 92.53 L337.2 92.36 L341.0 92.20 L344.8 92.04 L348.5 91.88 L352.2 91.71 L356.0 91.55" stroke="#b2bec6"/><path d="M40.0 116.98 L43.8 116.85 L47.6 116.72 L51.4 116.58 L55.2 116.45 L59.0 116.32" stroke="#b2bec6"/><path d="M138.0 113.47 L141.9 113.33 L145.9 113.18 L149.8 113.03 L153.8 112.89 L157.8 112.74 L161.7 112.59 L165.7 112.44 L169.6 112.30 L173.6 112.15 L177.5 112.00 L181.4 111.85 L185.4 111.70 L189.3 111.55 L193.3 111.40 L197.2 111.25 L201.2 111.10 L205.2 110.94 L209.1 110.79 L213.1 110.64 L217.0 110.49" stroke="#b2bec6"/><path d="M296.0 107.38 L299.8 107.23 L303.5 107.08 L307.2 106.93 L311.0 106.78 L314.8 106.63 L318.5 106.48 L322.2 106.33 L326.0 106.17 L329.8 106.02 L333.5 105.87 L337.2 105.72 L341.0 105.56 L344.8 105.41 L348.5 105.26 L352.2 105.11 L356.0 104.95" stroke="#b2bec6"/><path d="M40.0 126.42 L43.8 126.33 L47.6 126.23 L51.4 126.13 L55.2 126.04 L59.0 125.94" stroke="url(#g23)"/><path d="M138.0 123.82 L141.9 123.71 L145.9 123.60 L149.8 123.49 L153.8 123.38 L157.8 123.26 L161.7 123.15 L165.7 123.03 L169.6 122.92 L173.6 122.80 L177.5 122.69 L181.4 122.57 L185.4 122.45 L189.3 122.34 L193.3 122.22 L197.2 122.10 L201.2 121.98 L205.2 121.86 L209.1 121.74 L213.1 121.62 L217.0 121.50" stroke="#b2bec6"/><path d="M296.0 118.99 L299.8 118.86 L303.5 118.74 L307.2 118.62 L311.0 118.49 L314.8 118.37 L318.5 118.24 L322.2 118.11 L326.0 117.99 L329.8 117.86 L333.5 117.73 L337.2 117.61 L341.0 117.48 L344.8 117.35 L348.5 117.22 L352.2 117.09 L356.0 116.96" stroke="#b2bec6"/><path d="M40.0 132.37 L43.8 132.32 L47.6 132.27 L51.4 132.22 L55.2 132.17 L59.0 132.12" stroke="url(#g24)"/><path d="M138.0 130.94 L141.9 130.87 L145.9 130.80 L149.8 130.74 L153.8 130.67 L157.8 130.60 L161.7 130.53 L165.7 130.46 L169.6 130.39 L173.6 130.32 L177.5 130.25 L181.4 130.18 L185.4 130.11 L189.3 130.03 L193.3 129.96 L197.2 129.88 L201.2 129.81 L205.2 129.73 L209.1 129.66 L213.1 129.58 L217.0 129.50" stroke="url(#g26)"/><path d="M296.0 127.83 L299.8 127.75 L303.5 127.66 L307.2 127.57 L311.0 127.49 L314.8 127.40 L318.5 127.31 L322.2 127.22 L326.0 127.14 L329.8 127.05 L333.5 126.96 L337.2 126.87 L341.0 126.78 L344.8 126.68 L348.5 126.59 L352.2 126.50 L356.0 126.41" stroke="url(#g28)"/><path d="M138.0 134.12 L141.9 134.10 L145.9 134.09 L149.8 134.07 L153.8 134.06 L157.8 134.04 L161.7 134.02 L165.7 134.00 L169.6 133.99 L173.6 133.97 L177.5 133.95 L181.4 133.93 L185.4 133.91 L189.3 133.88 L193.3 133.86 L197.2 133.84 L201.2 133.81 L205.2 133.79 L209.1 133.77 L213.1 133.74 L217.0 133.71" stroke="#c884a6"/><path d="M296.0 133.04 L299.8 133.01 L303.5 132.97 L307.2 132.93 L311.0 132.89 L314.8 132.85 L318.5 132.81 L322.2 132.76 L326.0 132.72 L329.8 132.68 L333.5 132.64 L337.2 132.59 L341.0 132.55 L344.8 132.50 L348.5 132.46 L352.2 132.41 L356.0 132.36" stroke="url(#g30)"/><path d="M336.0 137.10 L339.3 137.10 L342.7 137.10 L346.0 137.10 L349.3 137.10 L352.7 137.11 L356.0 137.11" stroke="#919be4"/><path d="M40.0 137.11 L43.9 137.11 L47.9 137.12 L51.8 137.12 L55.7 137.13 L59.7 137.13 L63.6 137.14 L67.5 137.15 L71.5 137.16 L75.4 137.17 L79.3 137.18 L83.3 137.19 L87.2 137.20 L91.1 137.21 L95.1 137.22 L99.0 137.23" stroke="#919be4"/><path d="M178.0 137.64 L181.9 137.66 L185.9 137.69 L189.8 137.72 L193.8 137.75 L197.8 137.78 L201.7 137.81 L205.7 137.84 L209.6 137.87 L213.6 137.90 L217.5 137.94 L221.4 137.97 L225.4 138.00 L229.3 138.04 L233.3 138.08 L237.2 138.11 L241.2 138.15 L245.2 138.19 L249.1 138.22 L253.1 138.26 L257.0 138.30" stroke="url(#g31)"/><path d="M336.0 139.23 L339.3 139.28 L342.7 139.32 L346.0 139.37 L349.3 139.41 L352.7 139.46 L356.0 139.51" stroke="url(#g33)"/><path d="M40.0 139.50 L43.9 139.56 L47.9 139.61 L51.8 139.67 L55.7 139.73 L59.7 139.79 L63.6 139.85 L67.5 139.91 L71.5 139.97 L75.4 140.03 L79.3 140.09 L83.3 140.15 L87.2 140.22 L91.1 140.28 L95.1 140.34 L99.0 140.41" stroke="url(#g34)"/><path d="M178.0 141.84 L181.9 141.92 L185.9 142.00 L189.8 142.08 L193.8 142.16 L197.8 142.24 L201.7 142.32 L205.7 142.40 L209.6 142.48 L213.6 142.56 L217.5 142.65 L221.4 142.73 L225.4 142.82 L229.3 142.90 L233.3 142.99 L237.2 143.07 L241.2 143.16 L245.2 143.25 L249.1 143.34 L253.1 143.42 L257.0 143.51" stroke="url(#g36)"/><path d="M336.0 145.41 L339.3 145.50 L342.7 145.58 L346.0 145.67 L349.3 145.76 L352.7 145.84 L356.0 145.93" stroke="#7477f3"/><path d="M40.0 145.92 L43.9 146.02 L47.9 146.12 L51.8 146.23 L55.7 146.33 L59.7 146.44 L63.6 146.54 L67.5 146.65 L71.5 146.76 L75.4 146.86 L79.3 146.97 L83.3 147.08 L87.2 147.19 L91.1 147.30 L95.1 147.41 L99.0 147.52" stroke="#7477f3"/><path d="M178.0 149.84 L181.9 149.96 L185.9 150.08 L189.8 150.21 L193.8 150.33 L197.8 150.45 L201.7 150.58 L205.7 150.70 L209.6 150.82 L213.6 150.95 L217.5 151.07 L221.4 151.20 L225.4 151.33 L229.3 151.45 L233.3 151.58 L237.2 151.71 L241.2 151.84 L245.2 151.96 L249.1 152.09 L253.1 152.22 L257.0 152.35" stroke="#7477f3"/><path d="M336.0 155.04 L339.3 155.16 L342.7 155.27 L346.0 155.39 L349.3 155.51 L352.7 155.63 L356.0 155.75" stroke="#7477f3"/><path d="M40.0 155.73 L43.9 155.87 L47.9 156.01 L51.8 156.15 L55.7 156.29 L59.7 156.43 L63.6 156.57 L67.5 156.72 L71.5 156.86 L75.4 157.00 L79.3 157.14 L83.3 157.29 L87.2 157.43 L91.1 157.58 L95.1 157.72 L99.0 157.87" stroke="#7477f3"/><path d="M178.0 160.85 L181.9 161.00 L185.9 161.16 L189.8 161.31 L193.8 161.46 L197.8 161.62 L201.7 161.77 L205.7 161.93 L209.6 162.08 L213.6 162.24 L217.5 162.39 L221.4 162.55 L225.4 162.70 L229.3 162.86 L233.3 163.01 L237.2 163.17 L241.2 163.33 L245.2 163.49 L249.1 163.64 L253.1 163.80 L257.0 163.96" stroke="#7477f3"/><path d="M336.0 167.17 L339.3 167.31 L342.7 167.44 L346.0 167.58 L349.3 167.72 L352.7 167.86 L356.0 167.99" stroke="#7477f3"/><path d="M40.0 167.97 L43.9 168.14 L47.9 168.30 L51.8 168.46 L55.7 168.63 L59.7 168.79 L63.6 168.96 L67.5 169.12 L71.5 169.28 L75.4 169.45 L79.3 169.61 L83.3 169.78 L87.2 169.94 L91.1 170.11 L95.1 170.27 L99.0 170.44" stroke="#7477f3"/><path d="M178.0 173.80 L181.9 173.96 L185.9 174.13 L189.8 174.30 L193.8 174.47 L197.8 174.64 L201.7 174.81 L205.7 174.98 L209.6 175.15 L213.6 175.32 L217.5 175.49 L221.4 175.66 L225.4 175.83 L229.3 176.00 L233.3 176.17 L237.2 176.34 L241.2 176.51 L245.2 176.68 L249.1 176.85 L253.1 177.02 L257.0 177.19" stroke="#7477f3"/><path d="M336.0 180.61 L339.3 180.76 L342.7 180.90 L346.0 181.04 L349.3 181.19 L352.7 181.33 L356.0 181.48" stroke="#7477f3"/><path d="M40.0 181.46 L43.9 181.63 L47.9 181.80 L51.8 181.97 L55.7 182.14 L59.7 182.31 L63.6 182.48 L67.5 182.65 L71.5 182.82 L75.4 182.99 L79.3 183.16 L83.3 183.33 L87.2 183.50 L91.1 183.67 L95.1 183.84 L99.0 184.01" stroke="#7477f3"/><path d="M178.0 187.40 L181.9 187.57 L185.9 187.74 L189.8 187.91 L193.8 188.08 L197.8 188.25 L201.7 188.42 L205.7 188.59 L209.6 188.75 L213.6 188.92 L217.5 189.09 L221.4 189.26 L225.4 189.42 L229.3 189.59 L233.3 189.76 L237.2 189.93 L241.2 190.09 L245.2 190.26 L249.1 190.43 L253.1 190.59 L257.0 190.76" stroke="#7477f3"/><path d="M336.0 194.05 L339.3 194.19 L342.7 194.33 L346.0 194.46 L349.3 194.60 L352.7 194.74 L356.0 194.87" stroke="#7477f3"/><path d="M40.0 194.85 L43.9 195.01 L47.9 195.17 L51.8 195.34 L55.7 195.50 L59.7 195.66 L63.6 195.81 L67.5 195.97 L71.5 196.13 L75.4 196.29 L79.3 196.45 L83.3 196.61 L87.2 196.77 L91.1 196.93 L95.1 197.08 L99.0 197.24" stroke="#7477f3"/><path d="M178.0 200.35 L181.9 200.50 L185.9 200.65 L189.8 200.80 L193.8 200.96 L197.8 201.11 L201.7 201.26 L205.7 201.41 L209.6 201.56 L213.6 201.71 L217.5 201.86 L221.4 202.01 L225.4 202.16 L229.3 202.30 L233.3 202.45 L237.2 202.60 L241.2 202.75 L245.2 202.89 L249.1 203.04 L253.1 203.19 L257.0 203.33" stroke="#7477f3"/><path d="M336.0 206.18 L339.3 206.29 L342.7 206.41 L346.0 206.53 L349.3 206.64 L352.7 206.76 L356.0 206.87" stroke="#7477f3"/><path d="M40.0 206.86 L43.9 206.99 L47.9 207.13 L51.8 207.26 L55.7 207.40 L59.7 207.53 L63.6 207.66 L67.5 207.80 L71.5 207.93 L75.4 208.06 L79.3 208.19 L83.3 208.33 L87.2 208.46 L91.1 208.59 L95.1 208.72 L99.0 208.85" stroke="#7477f3"/><path d="M178.0 211.36 L181.9 211.48 L185.9 211.60 L189.8 211.72 L193.8 211.84 L197.8 211.96 L201.7 212.08 L205.7 212.19 L209.6 212.31 L213.6 212.43 L217.5 212.54 L221.4 212.66 L225.4 212.78 L229.3 212.89 L233.3 213.01 L237.2 213.12 L241.2 213.23 L245.2 213.35 L249.1 213.46 L253.1 213.57 L257.0 213.68" stroke="#7477f3"/><path d="M336.0 215.80 L339.3 215.88 L342.7 215.97 L346.0 216.05 L349.3 216.13 L352.7 216.22 L356.0 216.30" stroke="url(#g38)"/><path d="M40.0 216.29 L43.9 216.39 L47.9 216.48 L51.8 216.58 L55.7 216.67 L59.7 216.77 L63.6 216.86 L67.5 216.96 L71.5 217.05 L75.4 217.14 L79.3 217.23 L83.3 217.33 L87.2 217.42 L91.1 217.51 L95.1 217.60 L99.0 217.69" stroke="url(#g39)"/><path d="M178.0 219.36 L181.9 219.44 L185.9 219.51 L189.8 219.59 L193.8 219.66 L197.8 219.74 L201.7 219.81 L205.7 219.89 L209.6 219.96 L213.6 220.03 L217.5 220.11 L221.4 220.18 L225.4 220.25 L229.3 220.32 L233.3 220.39 L237.2 220.46 L241.2 220.52 L245.2 220.59 L249.1 220.66 L253.1 220.73 L257.0 220.79" stroke="url(#g41)"/><path d="M336.0 221.97 L339.3 222.02 L342.7 222.06 L346.0 222.11 L349.3 222.15 L352.7 222.19 L356.0 222.23" stroke="url(#g43)"/><path d="M40.0 222.23 L43.9 222.28 L47.9 222.32 L51.8 222.37 L55.7 222.42 L59.7 222.47 L63.6 222.51 L67.5 222.56 L71.5 222.60 L75.4 222.65 L79.3 222.69 L83.3 222.73 L87.2 222.77 L91.1 222.82 L95.1 222.86 L99.0 222.90" stroke="url(#g44)"/><path d="M178.0 223.56 L181.9 223.59 L185.9 223.62 L189.8 223.64 L193.8 223.67 L197.8 223.69 L201.7 223.71 L205.7 223.74 L209.6 223.76 L213.6 223.78 L217.5 223.80 L221.4 223.82 L225.4 223.84 L229.3 223.86 L233.3 223.87 L237.2 223.89 L241.2 223.91 L245.2 223.92 L249.1 223.94 L253.1 223.95 L257.0 223.97" stroke="#919be4"/><path d="M99.0 138.30 L103.0 138.26 L106.9 138.22 L110.8 138.19 L114.8 138.15 L118.8 138.11 L122.7 138.08 L126.7 138.04 L130.6 138.00 L134.6 137.97 L138.5 137.94 L142.4 137.90 L146.4 137.87 L150.3 137.84 L154.3 137.81 L158.2 137.78 L162.2 137.75 L166.2 137.72 L170.1 137.69 L174.1 137.66 L178.0 137.64" stroke="url(#g47)"/><path d="M257.0 137.23 L260.9 137.22 L264.9 137.21 L268.9 137.20 L272.8 137.19 L276.8 137.18 L280.7 137.17 L284.6 137.16 L288.6 137.15 L292.6 137.14 L296.5 137.13 L300.4 137.13 L304.4 137.12 L308.4 137.12 L312.3 137.11 L316.2 137.11 L320.2 137.11 L324.1 137.10 L328.1 137.10 L332.1 137.10 L335.8 137.10" stroke="#919be4"/><path d="M99.0 143.51 L103.0 143.42 L106.9 143.34 L110.8 143.25 L114.8 143.16 L118.8 143.07 L122.7 142.99 L126.7 142.90 L130.6 142.82 L134.6 142.73 L138.5 142.65 L142.4 142.56 L146.4 142.48 L150.3 142.40 L154.3 142.32 L158.2 142.24 L162.2 142.16 L166.2 142.08 L170.1 142.00 L174.1 141.92 L178.0 141.84" stroke="url(#g49)"/><path d="M257.0 140.41 L260.9 140.34 L264.9 140.28 L268.9 140.22 L272.8 140.15 L276.8 140.09 L280.7 140.03 L284.6 139.97 L288.6 139.91 L292.6 139.85 L296.5 139.79 L300.4 139.73 L304.4 139.67 L308.4 139.61 L312.3 139.55 L316.2 139.50 L320.2 139.44 L324.1 139.39 L328.1 139.33 L332.1 139.28 L336.0 139.23" stroke="url(#g51)"/><path d="M99.0 152.35 L103.0 152.22 L106.9 152.09 L110.8 151.96 L114.8 151.84 L118.8 151.71 L122.7 151.58 L126.7 151.45 L130.6 151.33 L134.6 151.20 L138.5 151.07 L142.4 150.95 L146.4 150.82 L150.3 150.70 L154.3 150.58 L158.2 150.45 L162.2 150.33 L166.2 150.21 L170.1 150.08 L174.1 149.96 L178.0 149.84" stroke="#b2bbbd"/><path d="M257.0 147.52 L260.9 147.41 L264.9 147.30 L268.9 147.19 L272.8 147.08 L276.8 146.97 L280.7 146.86 L284.6 146.75 L288.6 146.65 L292.6 146.54 L296.5 146.43 L300.4 146.33 L304.4 146.22 L308.4 146.12 L312.3 146.01 L316.2 145.91 L320.2 145.81 L324.1 145.71 L328.1 145.60 L332.1 145.50 L336.0 145.40" stroke="#b2bbbd"/><path d="M99.0 163.96 L103.0 163.80 L106.9 163.64 L110.8 163.49 L114.8 163.33 L118.8 163.17 L122.7 163.01 L126.7 162.86 L130.6 162.70 L134.6 162.55 L138.5 162.39 L142.4 162.24 L146.4 162.08 L150.3 161.93 L154.3 161.77 L158.2 161.62 L162.2 161.46 L166.2 161.31 L170.1 161.16 L174.1 161.00 L178.0 160.85" stroke="#b2bbbd"/><path d="M257.0 157.87 L260.9 157.72 L264.9 157.58 L268.9 157.43 L272.8 157.29 L276.8 157.14 L280.7 157.00 L284.6 156.85 L288.6 156.71 L292.6 156.57 L296.5 156.43 L300.4 156.28 L304.4 156.14 L308.4 156.00 L312.3 155.86 L316.2 155.72 L320.2 155.58 L324.1 155.44 L328.1 155.30 L332.1 155.16 L336.0 155.02" stroke="#b2bbbd"/><path d="M99.0 177.19 L103.0 177.02 L106.9 176.85 L110.8 176.68 L114.8 176.51 L118.8 176.34 L122.7 176.17 L126.7 176.00 L130.6 175.83 L134.6 175.66 L138.5 175.49 L142.4 175.32 L146.4 175.15 L150.3 174.98 L154.3 174.81 L158.2 174.64 L162.2 174.47 L166.2 174.30 L170.1 174.13 L174.1 173.96 L178.0 173.80" stroke="#b2bbbd"/><path d="M257.0 170.44 L260.9 170.27 L264.9 170.11 L268.9 169.94 L272.8 169.78 L276.8 169.61 L280.7 169.44 L284.6 169.28 L288.6 169.11 L292.6 168.95 L296.5 168.78 L300.4 168.62 L304.4 168.46 L308.4 168.29 L312.3 168.13 L316.2 167.96 L320.2 167.80 L324.1 167.64 L328.1 167.47 L332.1 167.31 L336.0 167.15" stroke="#b2bbbd"/><path d="M99.0 190.76 L103.0 190.59 L106.9 190.43 L110.8 190.26 L114.8 190.09 L118.8 189.93 L122.7 189.76 L126.7 189.59 L130.6 189.42 L134.6 189.26 L138.5 189.09 L142.4 188.92 L146.4 188.75 L150.3 188.59 L154.3 188.42 L158.2 188.25 L162.2 188.08 L166.2 187.91 L170.1 187.74 L174.1 187.57 L178.0 187.40" stroke="#b2bbbd"/><path d="M257.0 184.01 L260.9 183.84 L264.9 183.67 L268.9 183.50 L272.8 183.32 L276.8 183.15 L280.7 182.98 L284.6 182.81 L288.6 182.64 L292.6 182.47 L296.5 182.30 L300.4 182.13 L304.4 181.96 L308.4 181.79 L312.3 181.62 L316.2 181.44 L320.2 181.27 L324.1 181.10 L328.1 180.93 L332.1 180.76 L336.0 180.59" stroke="#b2bbbd"/><path d="M99.0 203.33 L103.0 203.19 L106.9 203.04 L110.8 202.89 L114.8 202.75 L118.8 202.60 L122.7 202.45 L126.7 202.30 L130.6 202.16 L134.6 202.01 L138.5 201.86 L142.4 201.71 L146.4 201.56 L150.3 201.41 L154.3 201.26 L158.2 201.11 L162.2 200.96 L166.2 200.80 L170.1 200.65 L174.1 200.50 L178.0 200.35" stroke="#b2bbbd"/><path d="M257.0 197.24 L260.9 197.08 L264.9 196.93 L268.9 196.77 L272.8 196.61 L276.8 196.45 L280.7 196.29 L284.6 196.13 L288.6 195.97 L292.6 195.81 L296.5 195.65 L300.4 195.49 L304.4 195.33 L308.4 195.17 L312.3 195.00 L316.2 194.84 L320.2 194.68 L324.1 194.52 L328.1 194.36 L332.1 194.19 L336.0 194.03" stroke="#b2bbbd"/><path d="M99.0 213.68 L103.0 213.57 L106.9 213.46 L110.8 213.35 L114.8 213.23 L118.8 213.12 L122.7 213.01 L126.7 212.89 L130.6 212.78 L134.6 212.66 L138.5 212.54 L142.4 212.43 L146.4 212.31 L150.3 212.19 L154.3 212.08 L158.2 211.96 L162.2 211.84 L166.2 211.72 L170.1 211.60 L174.1 211.48 L178.0 211.36" stroke="#b2bbbd"/><path d="M257.0 208.85 L260.9 208.72 L264.9 208.59 L268.9 208.45 L272.8 208.32 L276.8 208.19 L280.7 208.06 L284.6 207.93 L288.6 207.79 L292.6 207.66 L296.5 207.52 L300.4 207.39 L304.4 207.25 L308.4 207.12 L312.3 206.98 L316.2 206.85 L320.2 206.71 L324.1 206.57 L328.1 206.44 L332.1 206.30 L336.0 206.16" stroke="#b2bbbd"/><path d="M99.0 220.79 L103.0 220.73 L106.9 220.66 L110.8 220.59 L114.8 220.52 L118.8 220.46 L122.7 220.39 L126.7 220.32 L130.6 220.25 L134.6 220.18 L138.5 220.11 L142.4 220.03 L146.4 219.96 L150.3 219.89 L154.3 219.81 L158.2 219.74 L162.2 219.66 L166.2 219.59 L170.1 219.51 L174.1 219.44 L178.0 219.36" stroke="url(#g55)"/><path d="M257.0 217.69 L260.9 217.60 L264.9 217.51 L268.9 217.42 L272.8 217.32 L276.8 217.23 L280.7 217.14 L284.6 217.05 L288.6 216.95 L292.6 216.86 L296.5 216.76 L300.4 216.67 L304.4 216.57 L308.4 216.48 L312.3 216.38 L316.2 216.28 L320.2 216.18 L324.1 216.09 L328.1 215.99 L332.1 215.89 L336.0 215.79" stroke="url(#g57)"/><path d="M99.0 223.97 L103.0 223.95 L106.9 223.94 L110.8 223.92 L114.8 223.91 L118.8 223.89 L122.7 223.87 L126.7 223.86 L130.6 223.84 L134.6 223.82 L138.5 223.80 L142.4 223.78 L146.4 223.76 L150.3 223.74 L154.3 223.71 L158.2 223.69 L162.2 223.67 L166.2 223.64 L170.1 223.62 L174.1 223.59 L178.0 223.56" stroke="#919be4"/><path d="M257.0 222.90 L260.9 222.86 L264.9 222.82 L268.9 222.77 L272.8 222.73 L276.8 222.69 L280.7 222.65 L284.6 222.60 L288.6 222.56 L292.6 222.51 L296.5 222.46 L300.4 222.42 L304.4 222.37 L308.4 222.32 L312.3 222.27 L316.2 222.22 L320.2 222.17 L324.1 222.12 L328.1 222.07 L332.1 222.02 L336.0 221.97" stroke="url(#g59)"/><path d="M335.8 224.10 L336.0 224.10" stroke="#919be4"/><path d="M138.0 47.38 L141.9 47.40 L145.9 47.41 L149.8 47.43 L153.8 47.44 L157.8 47.46 L161.7 47.48 L165.7 47.50 L169.6 47.51 L173.6 47.53 L177.5 47.55 L181.4 47.57 L185.4 47.59 L189.3 47.62 L193.3 47.64 L197.2 47.66 L201.2 47.69 L205.2 47.71 L209.1 47.73 L213.1 47.76 L217.0 47.79" stroke="#c884a6"/><path d="M296.0 48.46 L299.8 48.49 L303.5 48.53 L307.2 48.57 L311.0 48.61 L314.8 48.65 L318.5 48.69 L322.2 48.74 L326.0 48.78 L329.8 48.82 L333.5 48.86 L337.2 48.91 L341.0 48.95 L344.8 49.00 L348.5 49.04 L352.2 49.09 L356.0 49.14" stroke="url(#g2)"/><path d="M40.0 49.13 L43.8 49.18 L47.6 49.23 L51.4 49.28 L55.2 49.33 L59.0 49.38" stroke="url(#g3)"/><path d="M138.0 50.56 L141.9 50.63 L145.9 50.70 L149.8 50.76 L153.8 50.83 L157.8 50.90 L161.7 50.97 L165.7 51.04 L169.6 51.11 L173.6 51.18 L177.5 51.25 L181.4 51.32 L185.4 51.39 L189.3 51.47 L193.3 51.54 L197.2 51.62 L201.2 51.69 L205.2 51.77 L209.1 51.84 L213.1 51.92 L217.0 52.00" stroke="url(#g5)"/><path d="M296.0 53.67 L299.8 53.75 L303.5 53.84 L307.2 53.93 L311.0 54.01 L314.8 54.10 L318.5 54.19 L322.2 54.28 L326.0 54.36 L329.8 54.45 L333.5 54.54 L337.2 54.63 L341.0 54.72 L344.8 54.82 L348.5 54.91 L352.2 55.00 L356.0 55.09" stroke="url(#g7)"/><path d="M40.0 55.08 L43.8 55.17 L47.6 55.27 L51.4 55.37 L55.2 55.46 L59.0 55.56" stroke="url(#g8)"/><path d="M138.0 57.68 L141.9 57.79 L145.9 57.90 L149.8 58.01 L153.8 58.12 L157.8 58.24 L161.7 58.35 L165.7 58.47 L169.6 58.58 L173.6 58.70 L177.5 58.81 L181.4 58.93 L185.4 59.05 L189.3 59.16 L193.3 59.28 L197.2 59.40 L201.2 59.52 L205.2 59.64 L209.1 59.76 L213.1 59.88 L217.0 60.00" stroke="#cb5889"/><path d="M296.0 62.51 L299.8 62.64 L303.5 62.76 L307.2 62.88 L311.0 63.01 L314.8 63.13 L318.5 63.26 L322.2 63.39 L326.0 63.51 L329.8 63.64 L333.5 63.77 L337.2 63.89 L341.0 64.02 L344.8 64.15 L348.5 64.28 L352.2 64.41 L356.0 64.54" stroke="#cb5889"/><path d="M40.0 64.52 L43.8 64.65 L47.6 64.78 L51.4 64.92 L55.2 65.05 L59.0 65.18" stroke="#cb5889"/><path d="M138.0 68.03 L141.9 68.17 L145.9 68.32 L149.8 68.47 L153.8 68.61 L157.8 68.76 L161.7 68.91 L165.7 69.06 L169.6 69.20 L173.6 69.35 L177.5 69.50 L181.4 69.65 L185.4 69.80 L189.3 69.95 L193.3 70.10 L197.2 70.25 L201.2 70.40 L205.2 70.56 L209.1 70.71 L213.1 70.86 L217.0 71.01" stroke="#cb5889"/><path d="M296.0 74.12 L299.8 74.27 L303.5 74.42 L307.2 74.57 L311.0 74.72 L314.8 74.87 L318.5 75.02 L322.2 75.17 L326.0 75.33 L329.8 75.48 L333.5 75.63 L337.2 75.78 L341.0 75.94 L344.8 76.09 L348.5 76.24 L352.2 76.39 L356.0 76.55" stroke="#cb5889"/><path d="M40.0 76.53 L43.8 76.68 L47.6 76.84 L51.4 77.00 L55.2 77.15 L59.0 77.31" stroke="#cb5889"/><path d="M138.0 80.60 L141.9 80.77 L145.9 80.93 L149.8 81.10 L153.8 81.27 L157.8 81.43 L161.7 81.60 L165.7 81.77 L169.6 81.94 L173.6 82.10 L177.5 82.27 L181.4 82.44 L185.4 82.61 L189.3 82.78 L193.3 82.94 L197.2 83.11 L201.2 83.28 L205.2 83.45 L209.1 83.62 L213.1 83.79 L217.0 83.96" stroke="#cb5889"/><path d="M296.0 87.35 L299.8 87.52 L303.5 87.68 L307.2 87.84 L311.0 88.00 L314.8 88.16 L318.5 88.33 L322.2 88.49 L326.0 88.65 L329.8 88.81 L333.5 88.97 L337.2 89.14 L341.0 89.30 L344.8 89.46 L348.5 89.62 L352.2 89.79 L356.0 89.95" stroke="#cb5889"/><path d="M40.0 89.93 L43.8 90.09 L47.6 90.26 L51.4 90.42 L55.2 90.59 L59.0 90.75" stroke="#cb5889"/><path d="M138.0 94.17 L141.9 94.34 L145.9 94.51 L149.8 94.68 L153.8 94.85 L157.8 95.02 L161.7 95.19 L165.7 95.36 L169.6 95.53 L173.6 95.70 L177.5 95.87 L181.4 96.04 L185.4 96.21 L189.3 96.38 L193.3 96.55 L197.2 96.72 L201.2 96.89 L205.2 97.06 L209.1 97.23 L213.1 97.40 L217.0 97.57" stroke="#cb5889"/><path d="M296.0 100.92 L299.8 101.08 L303.5 101.24 L307.2 101.39 L311.0 101.55 L314.8 101.71 L318.5 101.87 L322.2 102.02 L326.0 102.18 L329.8 102.34 L333.5 102.49 L337.2 102.65 L341.0 102.80 L344.8 102.96 L348.5 103.12 L352.2 103.27 L356.0 103.43" stroke="#cb5889"/><path d="M40.0 103.41 L43.8 103.56 L47.6 103.72 L51.4 103.88 L55.2 104.04 L59.0 104.19" stroke="#cb5889"/><path d="M138.0 107.40 L141.9 107.56 L145.9 107.72 L149.8 107.87 L153.8 108.03 L157.8 108.19 L161.7 108.35 L165.7 108.50 L169.6 108.66 L173.6 108.81 L177.5 108.97 L181.4 109.12 L185.4 109.28 L189.3 109.43 L193.3 109.59 L197.2 109.74 L201.2 109.90 L205.2 110.05 L209.1 110.20 L213.1 110.36 L217.0 110.51" stroke="#cb5889"/><path d="M296.0 113.49 L299.8 113.63 L303.5 113.77 L307.2 113.91 L311.0 114.04 L314.8 114.18 L318.5 114.32 L322.2 114.45 L326.0 114.59 L329.8 114.73 L333.5 114.86 L337.2 115.00 L341.0 115.13 L344.8 115.27 L348.5 115.40 L352.2 115.53 L356.0 115.67" stroke="#cb5889"/><path d="M40.0 115.65 L43.8 115.78 L47.6 115.92 L51.4 116.05 L55.2 116.19 L59.0 116.32" stroke="#cb5889"/><path d="M138.0 119.01 L141.9 119.13 L145.9 119.26 L149.8 119.39 L153.8 119.52 L157.8 119.65 L161.7 119.78 L165.7 119.90 L169.6 120.03 L173.6 120.16 L177.5 120.28 L181.4 120.41 L185.4 120.53 L189.3 120.66 L193.3 120.78 L197.2 120.91 L201.2 121.03 L205.2 121.15 L209.1 121.27 L213.1 121.40 L217.0 121.52" stroke="#cb5889"/><path d="M296.0 123.84 L299.8 123.94 L303.5 124.05 L307.2 124.15 L311.0 124.26 L314.8 124.36 L318.5 124.46 L322.2 124.56 L326.0 124.67 L329.8 124.77 L333.5 124.87 L337.2 124.97 L341.0 125.07 L344.8 125.17 L348.5 125.27 L352.2 125.37 L356.0 125.47" stroke="#cb5889"/><path d="M40.0 125.45 L43.8 125.55 L47.6 125.65 L51.4 125.75 L55.2 125.85 L59.0 125.94" stroke="#cb5889"/><path d="M138.0 127.84 L141.9 127.93 L145.9 128.02 L149.8 128.11 L153.8 128.20 L157.8 128.28 L161.7 128.37 L165.7 128.45 L169.6 128.54 L173.6 128.62 L177.5 128.71 L181.4 128.79 L185.4 128.87 L189.3 128.96 L193.3 129.04 L197.2 129.12 L201.2 129.20 L205.2 129.28 L209.1 129.36 L213.1 129.44 L217.0 129.51" stroke="url(#g10)"/><path d="M296.0 130.94 L299.8 131.01 L303.5 131.07 L307.2 131.13 L311.0 131.19 L314.8 131.25 L318.5 131.31 L322.2 131.37 L326.0 131.42 L329.8 131.48 L333.5 131.54 L337.2 131.59 L341.0 131.65 L344.8 131.70 L348.5 131.76 L352.2 131.81 L356.0 131.87" stroke="url(#g12)"/><path d="M40.0 131.86 L43.8 131.91 L47.6 131.97 L51.4 132.02 L55.2 132.07 L59.0 132.12" stroke="url(#g13)"/><path d="M138.0 133.05 L141.9 133.09 L145.9 133.13 L149.8 133.17 L153.8 133.20 L157.8 133.24 L161.7 133.28 L165.7 133.31 L169.6 133.35 L173.6 133.38 L177.5 133.42 L181.4 133.45 L185.4 133.48 L189.3 133.51 L193.3 133.54 L197.2 133.57 L201.2 133.60 L205.2 133.63 L209.1 133.66 L213.1 133.69 L217.0 133.72" stroke="url(#g15)"/><path d="M296.0 134.12 L299.8 134.13 L303.5 134.14 L307.2 134.15 L311.0 134.16 L314.8 134.17 L318.5 134.18 L322.2 134.19 L326.0 134.20 L329.8 134.21 L333.5 134.21 L337.2 134.22 L341.0 134.23 L344.8 134.23 L348.5 134.24 L352.2 134.24 L356.0 134.24" stroke="#c884a6"/><path d="M40.0 134.24 L43.8 134.25 L47.6 134.25 L51.4 134.25 L55.2 134.25 L59.0 134.25" stroke="#c884a6"/><path d="M59.0 49.38 L63.0 49.33 L66.9 49.27 L70.8 49.22 L74.8 49.17 L78.8 49.12 L82.7 49.07 L86.7 49.02 L90.6 48.98 L94.5 48.93 L98.5 48.88 L102.5 48.84 L106.4 48.79 L110.3 48.75 L114.3 48.70 L118.2 48.66 L122.2 48.62 L126.2 48.57 L130.1 48.53 L134.1 48.49 L138.0 48.45" stroke="url(#g17)"/><path d="M217.0 47.78 L220.9 47.76 L224.9 47.73 L228.8 47.71 L232.8 47.68 L236.8 47.66 L240.7 47.64 L244.7 47.61 L248.6 47.59 L252.6 47.57 L256.5 47.55 L260.4 47.53 L264.4 47.51 L268.4 47.49 L272.3 47.48 L276.2 47.46 L280.2 47.44 L284.1 47.43 L288.1 47.41 L292.1 47.40 L296.0 47.38" stroke="#c884a6"/><path d="M59.0 55.56 L63.0 55.46 L66.9 55.36 L70.8 55.26 L74.8 55.16 L78.8 55.06 L82.7 54.96 L86.7 54.87 L90.6 54.77 L94.5 54.67 L98.5 54.58 L102.5 54.48 L106.4 54.39 L110.3 54.30 L114.3 54.20 L118.2 54.11 L122.2 54.02 L126.2 53.93 L130.1 53.84 L134.1 53.75 L138.0 53.66" stroke="url(#g19)"/><path d="M217.0 51.99 L220.9 51.91 L224.9 51.83 L228.8 51.76 L232.8 51.68 L236.8 51.61 L240.7 51.53 L244.7 51.46 L248.6 51.38 L252.6 51.31 L256.5 51.24 L260.4 51.17 L264.4 51.10 L268.4 51.03 L272.3 50.96 L276.2 50.89 L280.2 50.82 L284.1 50.75 L288.1 50.69 L292.1 50.62 L296.0 50.56" stroke="url(#g21)"/><path d="M59.0 65.18 L63.0 65.04 L66.9 64.91 L70.8 64.77 L74.8 64.63 L78.8 64.49 L82.7 64.36 L86.7 64.22 L90.6 64.09 L94.5 63.95 L98.5 63.82 L102.5 63.68 L106.4 63.55 L110.3 63.42 L114.3 63.28 L118.2 63.15 L122.2 63.02 L126.2 62.89 L130.1 62.76 L134.1 62.63 L138.0 62.49" stroke="#b2bec6"/><path d="M217.0 59.98 L220.9 59.86 L224.9 59.74 L228.8 59.62 L232.8 59.50 L236.8 59.38 L240.7 59.27 L244.7 59.15 L248.6 59.03 L252.6 58.91 L256.5 58.80 L260.4 58.68 L264.4 58.57 L268.4 58.45 L272.3 58.34 L276.2 58.22 L280.2 58.11 L284.1 58.00 L288.1 57.88 L292.1 57.77 L296.0 57.66" stroke="#b2bec6"/><path d="M59.0 77.31 L63.0 77.15 L66.9 76.98 L70.8 76.82 L74.8 76.66 L78.8 76.50 L82.7 76.34 L86.7 76.17 L90.6 76.01 L94.5 75.85 L98.5 75.69 L102.5 75.53 L106.4 75.37 L110.3 75.21 L114.3 75.05 L118.2 74.89 L122.2 74.73 L126.2 74.57 L130.1 74.41 L134.1 74.26 L138.0 74.10" stroke="#b2bec6"/><path d="M217.0 70.99 L220.9 70.84 L224.9 70.69 L228.8 70.54 L232.8 70.38 L236.8 70.23 L240.7 70.08 L244.7 69.93 L248.6 69.78 L252.6 69.63 L256.5 69.48 L260.4 69.33 L264.4 69.19 L268.4 69.04 L272.3 68.89 L276.2 68.74 L280.2 68.59 L284.1 68.45 L288.1 68.30 L292.1 68.15 L296.0 68.01" stroke="#b2bec6"/><path d="M59.0 90.75 L63.0 90.58 L66.9 90.41 L70.8 90.24 L74.8 90.07 L78.8 89.89 L82.7 89.72 L86.7 89.55 L90.6 89.38 L94.5 89.21 L98.5 89.04 L102.5 88.87 L106.4 88.70 L110.3 88.53 L114.3 88.36 L118.2 88.19 L122.2 88.01 L126.2 87.84 L130.1 87.67 L134.1 87.50 L138.0 87.33" stroke="#b2bec6"/><path d="M217.0 83.93 L220.9 83.77 L224.9 83.60 L228.8 83.43 L232.8 83.26 L236.8 83.09 L240.7 82.92 L244.7 82.75 L248.6 82.59 L252.6 82.42 L256.5 82.25 L260.4 82.08 L264.4 81.91 L268.4 81.75 L272.3 81.58 L276.2 81.41 L280.2 81.25 L284.1 81.08 L288.1 80.91 L292.1 80.75 L296.0 80.58" stroke="#b2bec6"/><path d="M59.0 104.19 L63.0 104.03 L66.9 103.87 L70.8 103.70 L74.8 103.54 L78.8 103.38 L82.7 103.21 L86.7 103.05 L90.6 102.88 L94.5 102.72 L98.5 102.56 L102.5 102.39 L106.4 102.23 L110.3 102.06 L114.3 101.89 L118.2 101.73 L122.2 101.56 L126.2 101.40 L130.1 101.23 L134.1 101.07 L138.0 100.90" stroke="#b2bec6"/><path d="M217.0 97.54 L220.9 97.38 L224.9 97.21 L228.8 97.04 L232.8 96.87 L236.8 96.70 L240.7 96.53 L244.7 96.36 L248.6 96.19 L252.6 96.02 L256.5 95.85 L260.4 95.68 L264.4 95.51 L268.4 95.34 L272.3 95.17 L276.2 95.00 L280.2 94.83 L284.1 94.66 L288.1 94.49 L292.1 94.32 L296.0 94.15" stroke="#b2bec6"/><path d="M59.0 116.32 L63.0 116.18 L66.9 116.04 L70.8 115.90 L74.8 115.76 L78.8 115.62 L82.7 115.48 L86.7 115.34 L90.6 115.20 L94.5 115.06 L98.5 114.92 L102.5 114.77 L106.4 114.63 L110.3 114.49 L114.3 114.34 L118.2 114.20 L122.2 114.05 L126.2 113.91 L130.1 113.77 L134.1 113.62 L138.0 113.47" stroke="#b2bec6"/><path d="M217.0 110.49 L220.9 110.34 L224.9 110.18 L228.8 110.03 L232.8 109.88 L236.8 109.72 L240.7 109.57 L244.7 109.41 L248.6 109.26 L252.6 109.10 L256.5 108.95 L260.4 108.79 L264.4 108.64 L268.4 108.48 L272.3 108.33 L276.2 108.17 L280.2 108.01 L284.1 107.85 L288.1 107.70 L292.1 107.54 L296.0 107.38" stroke="#b2bec6"/><path d="M59.0 125.94 L63.0 125.84 L66.9 125.74 L70.8 125.64 L74.8 125.54 L78.8 125.43 L82.7 125.33 L86.7 125.23 L90.6 125.12 L94.5 125.02 L98.5 124.91 L102.5 124.80 L106.4 124.70 L110.3 124.59 L114.3 124.48 L118.2 124.37 L122.2 124.26 L126.2 124.16 L130.1 124.05 L134.1 123.94 L138.0 123.82" stroke="#b2bec6"/><path d="M217.0 121.50 L220.9 121.38 L224.9 121.26 L228.8 121.14 L232.8 121.01 L236.8 120.89 L240.7 120.77 L244.7 120.64 L248.6 120.52 L252.6 120.39 L256.5 120.27 L260.4 120.14 L264.4 120.02 L268.4 119.89 L272.3 119.76 L276.2 119.63 L280.2 119.51 L284.1 119.38 L288.1 119.25 L292.1 119.12 L296.0 118.99" stroke="#b2bec6"/><path d="M59.0 132.12 L63.0 132.07 L66.9 132.01 L70.8 131.96 L74.8 131.90 L78.8 131.85 L82.7 131.79 L86.7 131.74 L90.6 131.68 L94.5 131.62 L98.5 131.56 L102.5 131.50 L106.4 131.44 L110.3 131.38 L114.3 131.32 L118.2 131.26 L122.2 131.19 L126.2 131.13 L130.1 131.07 L134.1 131.00 L138.0 130.94" stroke="url(#g25)"/><path d="M217.0 129.50 L220.9 129.43 L224.9 129.35 L228.8 129.27 L232.8 129.19 L236.8 129.11 L240.7 129.03 L244.7 128.95 L248.6 128.86 L252.6 128.78 L256.5 128.70 L260.4 128.61 L264.4 128.53 L268.4 128.44 L272.3 128.36 L276.2 128.27 L280.2 128.18 L284.1 128.10 L288.1 128.01 L292.1 127.92 L296.0 127.83" stroke="url(#g27)"/><path d="M59.0 134.25 L63.0 134.25 L66.9 134.25 L70.8 134.25 L74.8 134.24 L78.8 134.24 L82.7 134.24 L86.7 134.23 L90.6 134.23 L94.5 134.22 L98.5 134.22 L102.5 134.21 L106.4 134.20 L110.3 134.19 L114.3 134.18 L118.2 134.17 L122.2 134.16 L126.2 134.15 L130.1 134.14 L134.1 134.13 L138.0 134.12" stroke="#c884a6"/><path d="M217.0 133.71 L220.9 133.69 L224.9 133.66 L228.8 133.63 L232.8 133.60 L236.8 133.57 L240.7 133.54 L244.7 133.51 L248.6 133.48 L252.6 133.44 L256.5 133.41 L260.4 133.38 L264.4 133.34 L268.4 133.31 L272.3 133.27 L276.2 133.24 L280.2 133.20 L284.1 133.16 L288.1 133.12 L292.1 133.08 L296.0 133.04" stroke="url(#g29)"/><path d="M335.8 137.10 L336.0 137.10" stroke="#919be4"/><path d="M99.0 137.23 L103.0 137.25 L106.9 137.26 L110.8 137.28 L114.8 137.29 L118.8 137.31 L122.7 137.33 L126.7 137.34 L130.6 137.36 L134.6 137.38 L138.5 137.40 L142.4 137.42 L146.4 137.44 L150.3 137.46 L154.3 137.49 L158.2 137.51 L162.2 137.53 L166.2 137.56 L170.1 137.58 L174.1 137.61 L178.0 137.64" stroke="#919be4"/><path d="M257.0 138.30 L260.9 138.34 L264.9 138.38 L268.9 138.43 L272.8 138.47 L276.8 138.51 L280.7 138.55 L284.6 138.60 L288.6 138.64 L292.6 138.69 L296.5 138.74 L300.4 138.78 L304.4 138.83 L308.4 138.88 L312.3 138.93 L316.2 138.98 L320.2 139.03 L324.1 139.08 L328.1 139.13 L332.1 139.18 L336.0 139.23" stroke="url(#g32)"/><path d="M99.0 140.41 L103.0 140.47 L106.9 140.54 L110.8 140.61 L114.8 140.68 L118.8 140.74 L122.7 140.81 L126.7 140.88 L130.6 140.95 L134.6 141.02 L138.5 141.09 L142.4 141.17 L146.4 141.24 L150.3 141.31 L154.3 141.39 L158.2 141.46 L162.2 141.54 L166.2 141.61 L170.1 141.69 L174.1 141.76 L178.0 141.84" stroke="url(#g35)"/><path d="M257.0 143.51 L260.9 143.60 L264.9 143.69 L268.9 143.78 L272.8 143.88 L276.8 143.97 L280.7 144.06 L284.6 144.15 L288.6 144.25 L292.6 144.34 L296.5 144.44 L300.4 144.53 L304.4 144.63 L308.4 144.72 L312.3 144.82 L316.2 144.92 L320.2 145.02 L324.1 145.11 L328.1 145.21 L332.1 145.31 L336.0 145.41" stroke="url(#g37)"/><path d="M99.0 147.52 L103.0 147.63 L106.9 147.74 L110.8 147.85 L114.8 147.97 L118.8 148.08 L122.7 148.19 L126.7 148.31 L130.6 148.42 L134.6 148.54 L138.5 148.66 L142.4 148.77 L146.4 148.89 L150.3 149.01 L154.3 149.12 L158.2 149.24 L162.2 149.36 L166.2 149.48 L170.1 149.60 L174.1 149.72 L178.0 149.84" stroke="#7477f3"/><path d="M257.0 152.35 L260.9 152.48 L264.9 152.61 L268.9 152.75 L272.8 152.88 L276.8 153.01 L280.7 153.14 L284.6 153.27 L288.6 153.41 L292.6 153.54 L296.5 153.68 L300.4 153.81 L304.4 153.95 L308.4 154.08 L312.3 154.22 L316.2 154.35 L320.2 154.49 L324.1 154.63 L328.1 154.76 L332.1 154.90 L336.0 155.04" stroke="#7477f3"/><path d="M99.0 157.87 L103.0 158.01 L106.9 158.16 L110.8 158.31 L114.8 158.45 L118.8 158.60 L122.7 158.75 L126.7 158.90 L130.6 159.04 L134.6 159.19 L138.5 159.34 L142.4 159.49 L146.4 159.64 L150.3 159.79 L154.3 159.94 L158.2 160.09 L162.2 160.24 L166.2 160.40 L170.1 160.55 L174.1 160.70 L178.0 160.85" stroke="#7477f3"/><path d="M257.0 163.96 L260.9 164.12 L264.9 164.27 L268.9 164.43 L272.8 164.59 L276.8 164.75 L280.7 164.91 L284.6 165.07 L288.6 165.23 L292.6 165.39 L296.5 165.55 L300.4 165.71 L304.4 165.87 L308.4 166.03 L312.3 166.20 L316.2 166.36 L320.2 166.52 L324.1 166.68 L328.1 166.84 L332.1 167.01 L336.0 167.17" stroke="#7477f3"/><path d="M99.0 170.44 L103.0 170.61 L106.9 170.77 L110.8 170.94 L114.8 171.11 L118.8 171.27 L122.7 171.44 L126.7 171.61 L130.6 171.78 L134.6 171.94 L138.5 172.11 L142.4 172.28 L146.4 172.45 L150.3 172.61 L154.3 172.78 L158.2 172.95 L162.2 173.12 L166.2 173.29 L170.1 173.46 L174.1 173.63 L178.0 173.80" stroke="#7477f3"/><path d="M257.0 177.19 L260.9 177.36 L264.9 177.53 L268.9 177.70 L272.8 177.88 L276.8 178.05 L280.7 178.22 L284.6 178.39 L288.6 178.56 L292.6 178.73 L296.5 178.90 L300.4 179.07 L304.4 179.24 L308.4 179.41 L312.3 179.58 L316.2 179.76 L320.2 179.93 L324.1 180.10 L328.1 180.27 L332.1 180.44 L336.0 180.61" stroke="#7477f3"/><path d="M99.0 184.01 L103.0 184.18 L106.9 184.35 L110.8 184.52 L114.8 184.69 L118.8 184.86 L122.7 185.03 L126.7 185.20 L130.6 185.37 L134.6 185.54 L138.5 185.71 L142.4 185.88 L146.4 186.05 L150.3 186.22 L154.3 186.39 L158.2 186.56 L162.2 186.73 L166.2 186.90 L170.1 187.07 L174.1 187.24 L178.0 187.40" stroke="#7477f3"/><path d="M257.0 190.76 L260.9 190.93 L264.9 191.09 L268.9 191.26 L272.8 191.42 L276.8 191.59 L280.7 191.76 L284.6 191.92 L288.6 192.09 L292.6 192.25 L296.5 192.42 L300.4 192.58 L304.4 192.74 L308.4 192.91 L312.3 193.07 L316.2 193.24 L320.2 193.40 L324.1 193.56 L328.1 193.73 L332.1 193.89 L336.0 194.05" stroke="#7477f3"/><path d="M99.0 197.24 L103.0 197.40 L106.9 197.56 L110.8 197.71 L114.8 197.87 L118.8 198.03 L122.7 198.19 L126.7 198.34 L130.6 198.50 L134.6 198.65 L138.5 198.81 L142.4 198.96 L146.4 199.12 L150.3 199.27 L154.3 199.43 L158.2 199.58 L162.2 199.74 L166.2 199.89 L170.1 200.04 L174.1 200.20 L178.0 200.35" stroke="#7477f3"/><path d="M257.0 203.33 L260.9 203.48 L264.9 203.62 L268.9 203.77 L272.8 203.91 L276.8 204.06 L280.7 204.20 L284.6 204.35 L288.6 204.49 L292.6 204.63 L296.5 204.77 L300.4 204.92 L304.4 205.06 L308.4 205.20 L312.3 205.34 L316.2 205.48 L320.2 205.62 L324.1 205.76 L328.1 205.90 L332.1 206.04 L336.0 206.18" stroke="#7477f3"/><path d="M99.0 208.85 L103.0 208.98 L106.9 209.11 L110.8 209.24 L114.8 209.36 L118.8 209.49 L122.7 209.62 L126.7 209.75 L130.6 209.87 L134.6 210.00 L138.5 210.13 L142.4 210.25 L146.4 210.38 L150.3 210.50 L154.3 210.62 L158.2 210.75 L162.2 210.87 L166.2 210.99 L170.1 211.12 L174.1 211.24 L178.0 211.36" stroke="#7477f3"/><path d="M257.0 213.68 L260.9 213.79 L264.9 213.90 L268.9 214.01 L272.8 214.12 L276.8 214.23 L280.7 214.34 L284.6 214.45 L288.6 214.55 L292.6 214.66 L296.5 214.77 L300.4 214.87 L304.4 214.98 L308.4 215.08 L312.3 215.19 L316.2 215.29 L320.2 215.39 L324.1 215.49 L328.1 215.60 L332.1 215.70 L336.0 215.80" stroke="#7477f3"/><path d="M99.0 217.69 L103.0 217.78 L106.9 217.86 L110.8 217.95 L114.8 218.04 L118.8 218.13 L122.7 218.21 L126.7 218.30 L130.6 218.38 L134.6 218.47 L138.5 218.55 L142.4 218.64 L146.4 218.72 L150.3 218.80 L154.3 218.88 L158.2 218.96 L162.2 219.04 L166.2 219.12 L170.1 219.20 L174.1 219.28 L178.0 219.36" stroke="url(#g40)"/><path d="M257.0 220.79 L260.9 220.86 L264.9 220.92 L268.9 220.98 L272.8 221.05 L276.8 221.11 L280.7 221.17 L284.6 221.23 L288.6 221.29 L292.6 221.35 L296.5 221.41 L300.4 221.47 L304.4 221.53 L308.4 221.59 L312.3 221.65 L316.2 221.70 L320.2 221.76 L324.1 221.81 L328.1 221.87 L332.1 221.92 L336.0 221.97" stroke="url(#g42)"/><path d="M99.0 222.90 L103.0 222.94 L106.9 222.98 L110.8 223.01 L114.8 223.05 L118.8 223.09 L122.7 223.12 L126.7 223.16 L130.6 223.20 L134.6 223.23 L138.5 223.26 L142.4 223.30 L146.4 223.33 L150.3 223.36 L154.3 223.39 L158.2 223.42 L162.2 223.45 L166.2 223.48 L170.1 223.51 L174.1 223.54 L178.0 223.56" stroke="url(#g45)"/><path d="M257.0 223.97 L260.9 223.98 L264.9 223.99 L268.9 224.00 L272.8 224.01 L276.8 224.02 L280.7 224.03 L284.6 224.04 L288.6 224.05 L292.6 224.06 L296.5 224.07 L300.4 224.07 L304.4 224.08 L308.4 224.08 L312.3 224.09 L316.2 224.09 L320.2 224.09 L324.1 224.10 L328.1 224.10 L332.1 224.10 L335.8 224.10" stroke="#919be4"/><path d="M40.0 138.97 L43.9 138.92 L47.9 138.88 L51.8 138.83 L55.7 138.78 L59.7 138.73 L63.6 138.69 L67.5 138.64 L71.5 138.60 L75.4 138.55 L79.3 138.51 L83.3 138.47 L87.2 138.43 L91.1 138.38 L95.1 138.34 L99.0 138.30" stroke="url(#g46)"/><path d="M178.0 137.64 L181.9 137.61 L185.9 137.58 L189.8 137.56 L193.8 137.53 L197.8 137.51 L201.7 137.49 L205.7 137.46 L209.6 137.44 L213.6 137.42 L217.5 137.40 L221.4 137.38 L225.4 137.36 L229.3 137.34 L233.3 137.33 L237.2 137.31 L241.2 137.29 L245.2 137.28 L249.1 137.26 L253.1 137.25 L257.0 137.23" stroke="#919be4"/><path d="M40.0 144.91 L43.9 144.81 L47.9 144.72 L51.8 144.62 L55.7 144.53 L59.7 144.43 L63.6 144.34 L67.5 144.24 L71.5 144.15 L75.4 144.06 L79.3 143.97 L83.3 143.87 L87.2 143.78 L91.1 143.69 L95.1 143.60 L99.0 143.51" stroke="url(#g48)"/><path d="M178.0 141.84 L181.9 141.76 L185.9 141.69 L189.8 141.61 L193.8 141.54 L197.8 141.46 L201.7 141.39 L205.7 141.31 L209.6 141.24 L213.6 141.17 L217.5 141.09 L221.4 141.02 L225.4 140.95 L229.3 140.88 L233.3 140.81 L237.2 140.74 L241.2 140.68 L245.2 140.61 L249.1 140.54 L253.1 140.47 L257.0 140.41" stroke="url(#g50)"/><path d="M336.0 139.23 L339.3 139.18 L342.7 139.14 L346.0 139.09 L349.3 139.05 L352.7 139.01 L356.0 138.97" stroke="url(#g52)"/><path d="M40.0 154.34 L43.9 154.21 L47.9 154.07 L51.8 153.94 L55.7 153.80 L59.7 153.67 L63.6 153.54 L67.5 153.40 L71.5 153.27 L75.4 153.14 L79.3 153.01 L83.3 152.87 L87.2 152.74 L91.1 152.61 L95.1 152.48 L99.0 152.35" stroke="#b2bbbd"/><path d="M178.0 149.84 L181.9 149.72 L185.9 149.60 L189.8 149.48 L193.8 149.36 L197.8 149.24 L201.7 149.12 L205.7 149.01 L209.6 148.89 L213.6 148.77 L217.5 148.66 L221.4 148.54 L225.4 148.42 L229.3 148.31 L233.3 148.19 L237.2 148.08 L241.2 147.97 L245.2 147.85 L249.1 147.74 L253.1 147.63 L257.0 147.52" stroke="#b2bbbd"/><path d="M336.0 145.40 L339.3 145.32 L342.7 145.23 L346.0 145.15 L349.3 145.07 L352.7 144.98 L356.0 144.90" stroke="url(#g53)"/><path d="M40.0 166.35 L43.9 166.19 L47.9 166.03 L51.8 165.86 L55.7 165.70 L59.7 165.54 L63.6 165.39 L67.5 165.23 L71.5 165.07 L75.4 164.91 L79.3 164.75 L83.3 164.59 L87.2 164.43 L91.1 164.27 L95.1 164.12 L99.0 163.96" stroke="#b2bbbd"/><path d="M178.0 160.85 L181.9 160.70 L185.9 160.55 L189.8 160.40 L193.8 160.24 L197.8 160.09 L201.7 159.94 L205.7 159.79 L209.6 159.64 L213.6 159.49 L217.5 159.34 L221.4 159.19 L225.4 159.04 L229.3 158.90 L233.3 158.75 L237.2 158.60 L241.2 158.45 L245.2 158.31 L249.1 158.16 L253.1 158.01 L257.0 157.87" stroke="#b2bbbd"/><path d="M336.0 155.02 L339.3 154.91 L342.7 154.79 L346.0 154.67 L349.3 154.56 L352.7 154.44 L356.0 154.33" stroke="#b2bbbd"/><path d="M40.0 179.74 L43.9 179.57 L47.9 179.40 L51.8 179.23 L55.7 179.06 L59.7 178.89 L63.6 178.72 L67.5 178.55 L71.5 178.38 L75.4 178.21 L79.3 178.04 L83.3 177.87 L87.2 177.70 L91.1 177.53 L95.1 177.36 L99.0 177.19" stroke="#b2bbbd"/><path d="M178.0 173.80 L181.9 173.63 L185.9 173.46 L189.8 173.29 L193.8 173.12 L197.8 172.95 L201.7 172.78 L205.7 172.61 L209.6 172.45 L213.6 172.28 L217.5 172.11 L221.4 171.94 L225.4 171.78 L229.3 171.61 L233.3 171.44 L237.2 171.27 L241.2 171.11 L245.2 170.94 L249.1 170.77 L253.1 170.61 L257.0 170.44" stroke="#b2bbbd"/><path d="M336.0 167.15 L339.3 167.01 L342.7 166.87 L346.0 166.74 L349.3 166.60 L352.7 166.46 L356.0 166.33" stroke="#b2bbbd"/><path d="M40.0 193.23 L43.9 193.06 L47.9 192.90 L51.8 192.74 L55.7 192.57 L59.7 192.41 L63.6 192.24 L67.5 192.08 L71.5 191.92 L75.4 191.75 L79.3 191.59 L83.3 191.42 L87.2 191.26 L91.1 191.09 L95.1 190.93 L99.0 190.76" stroke="#b2bbbd"/><path d="M178.0 187.40 L181.9 187.24 L185.9 187.07 L189.8 186.90 L193.8 186.73 L197.8 186.56 L201.7 186.39 L205.7 186.22 L209.6 186.05 L213.6 185.88 L217.5 185.71 L221.4 185.54 L225.4 185.37 L229.3 185.20 L233.3 185.03 L237.2 184.86 L241.2 184.69 L245.2 184.52 L249.1 184.35 L253.1 184.18 L257.0 184.01" stroke="#b2bbbd"/><path d="M336.0 180.59 L339.3 180.44 L342.7 180.30 L346.0 180.16 L349.3 180.01 L352.7 179.87 L356.0 179.72" stroke="#b2bbbd"/><path d="M40.0 205.47 L43.9 205.33 L47.9 205.19 L51.8 205.05 L55.7 204.91 L59.7 204.77 L63.6 204.63 L67.5 204.48 L71.5 204.34 L75.4 204.20 L79.3 204.06 L83.3 203.91 L87.2 203.77 L91.1 203.62 L95.1 203.48 L99.0 203.33" stroke="#b2bbbd"/><path d="M178.0 200.35 L181.9 200.20 L185.9 200.04 L189.8 199.89 L193.8 199.74 L197.8 199.58 L201.7 199.43 L205.7 199.27 L209.6 199.12 L213.6 198.96 L217.5 198.81 L221.4 198.65 L225.4 198.50 L229.3 198.34 L233.3 198.19 L237.2 198.03 L241.2 197.87 L245.2 197.71 L249.1 197.56 L253.1 197.40 L257.0 197.24" stroke="#b2bbbd"/><path d="M336.0 194.03 L339.3 193.89 L342.7 193.76 L346.0 193.62 L349.3 193.48 L352.7 193.34 L356.0 193.21" stroke="#b2bbbd"/><path d="M40.0 215.28 L43.9 215.18 L47.9 215.08 L51.8 214.97 L55.7 214.87 L59.7 214.76 L63.6 214.66 L67.5 214.55 L71.5 214.44 L75.4 214.34 L79.3 214.23 L83.3 214.12 L87.2 214.01 L91.1 213.90 L95.1 213.79 L99.0 213.68" stroke="#b2bbbd"/><path d="M178.0 211.36 L181.9 211.24 L185.9 211.12 L189.8 210.99 L193.8 210.87 L197.8 210.75 L201.7 210.62 L205.7 210.50 L209.6 210.38 L213.6 210.25 L217.5 210.13 L221.4 210.00 L225.4 209.87 L229.3 209.75 L233.3 209.62 L237.2 209.49 L241.2 209.36 L245.2 209.24 L249.1 209.11 L253.1 208.98 L257.0 208.85" stroke="#b2bbbd"/><path d="M336.0 206.16 L339.3 206.04 L342.7 205.93 L346.0 205.81 L349.3 205.69 L352.7 205.57 L356.0 205.45" stroke="#b2bbbd"/><path d="M40.0 221.70 L43.9 221.64 L47.9 221.59 L51.8 221.53 L55.7 221.47 L59.7 221.41 L63.6 221.35 L67.5 221.29 L71.5 221.23 L75.4 221.17 L79.3 221.11 L83.3 221.05 L87.2 220.98 L91.1 220.92 L95.1 220.86 L99.0 220.79" stroke="url(#g54)"/><path d="M178.0 219.36 L181.9 219.28 L185.9 219.20 L189.8 219.12 L193.8 219.04 L197.8 218.96 L201.7 218.88 L205.7 218.80 L209.6 218.72 L213.6 218.64 L217.5 218.55 L221.4 218.47 L225.4 218.38 L229.3 218.30 L233.3 218.21 L237.2 218.13 L241.2 218.04 L245.2 217.95 L249.1 217.86 L253.1 217.78 L257.0 217.69" stroke="url(#g56)"/><path d="M336.0 215.79 L339.3 215.70 L342.7 215.62 L346.0 215.53 L349.3 215.44 L352.7 215.36 L356.0 215.27" stroke="#b2bbbd"/><path d="M40.0 224.09 L43.9 224.09 L47.9 224.08 L51.8 224.08 L55.7 224.07 L59.7 224.07 L63.6 224.06 L67.5 224.05 L71.5 224.04 L75.4 224.03 L79.3 224.02 L83.3 224.01 L87.2 224.00 L91.1 223.99 L95.1 223.98 L99.0 223.97" stroke="#919be4"/><path d="M178.0 223.56 L181.9 223.54 L185.9 223.51 L189.8 223.48 L193.8 223.45 L197.8 223.42 L201.7 223.39 L205.7 223.36 L209.6 223.33 L213.6 223.30 L217.5 223.26 L221.4 223.23 L225.4 223.20 L229.3 223.16 L233.3 223.12 L237.2 223.09 L241.2 223.05 L245.2 223.01 L249.1 222.98 L253.1 222.94 L257.0 222.90" stroke="url(#g58)"/><path d="M336.0 221.97 L339.3 221.92 L342.7 221.88 L346.0 221.83 L349.3 221.79 L352.7 221.74 L356.0 221.69" stroke="url(#g60)"/><path d="M336.0 224.10 L339.3 224.10 L342.7 224.10 L346.0 224.10 L349.3 224.10 L352.7 224.09 L356.0 224.09" stroke="#919be4"/></g>
<line x1="40.5" y1="245.3" x2="42.1" y2="245.3" stroke="#a8b4b4" stroke-width="0.9"/>
<line x1="353.9" y1="245.3" x2="355.5" y2="245.3" stroke="#a8b4b4" stroke-width="0.9"/>
<line x1="40.5" y1="223.3" x2="44.5" y2="223.3" stroke="#a8b4b4" stroke-width="0.9"/>
<line x1="351.5" y1="223.3" x2="355.5" y2="223.3" stroke="#a8b4b4" stroke-width="0.9"/>
<line x1="40.5" y1="201.3" x2="42.1" y2="201.3" stroke="#a8b4b4" stroke-width="0.9"/>
<line x1="353.9" y1="201.3" x2="355.5" y2="201.3" stroke="#a8b4b4" stroke-width="0.9"/>
<line x1="40.5" y1="179.3" x2="42.1" y2="179.3" stroke="#a8b4b4" stroke-width="0.9"/>
<line x1="353.9" y1="179.3" x2="355.5" y2="179.3" stroke="#a8b4b4" stroke-width="0.9"/>
<line x1="40.5" y1="157.3" x2="42.1" y2="157.3" stroke="#a8b4b4" stroke-width="0.9"/>
<line x1="353.9" y1="157.3" x2="355.5" y2="157.3" stroke="#a8b4b4" stroke-width="0.9"/>
<line x1="40.5" y1="135.3" x2="44.5" y2="135.3" stroke="#a8b4b4" stroke-width="0.9"/>
<line x1="351.5" y1="135.3" x2="355.5" y2="135.3" stroke="#a8b4b4" stroke-width="0.9"/>
<line x1="40.5" y1="113.3" x2="42.1" y2="113.3" stroke="#a8b4b4" stroke-width="0.9"/>
<line x1="353.9" y1="113.3" x2="355.5" y2="113.3" stroke="#a8b4b4" stroke-width="0.9"/>
<line x1="40.5" y1="91.3" x2="42.1" y2="91.3" stroke="#a8b4b4" stroke-width="0.9"/>
<line x1="353.9" y1="91.3" x2="355.5" y2="91.3" stroke="#a8b4b4" stroke-width="0.9"/>
<line x1="40.5" y1="69.3" x2="42.1" y2="69.3" stroke="#a8b4b4" stroke-width="0.9"/>
<line x1="353.9" y1="69.3" x2="355.5" y2="69.3" stroke="#a8b4b4" stroke-width="0.9"/>
<line x1="40.5" y1="47.3" x2="44.5" y2="47.3" stroke="#a8b4b4" stroke-width="0.9"/>
<line x1="351.5" y1="47.3" x2="355.5" y2="47.3" stroke="#a8b4b4" stroke-width="0.9"/>
<rect x="40.5" y="25.5" width="315" height="220.5" fill="none" stroke="#26353a" stroke-opacity="0.66" stroke-width="1"/>
<rect x="363.1" y="25.1" width="16.4" height="220.8" fill="url(#cb1)" stroke="#7a8888" stroke-opacity="0.6" stroke-width="0.6"/>
<line x1="363.1" y1="80.5" x2="366.9" y2="80.5" stroke="#000" stroke-opacity="0.42" stroke-width="1.1"/>
<line x1="375.2" y1="80.5" x2="379.5" y2="80.5" stroke="#000" stroke-opacity="0.42" stroke-width="1.1"/>
<line x1="363.1" y1="135.6" x2="366.9" y2="135.6" stroke="#000" stroke-opacity="0.42" stroke-width="1.1"/>
<line x1="375.2" y1="135.6" x2="379.5" y2="135.6" stroke="#000" stroke-opacity="0.42" stroke-width="1.1"/>
<line x1="363.1" y1="191.3" x2="366.9" y2="191.3" stroke="#000" stroke-opacity="0.42" stroke-width="1.1"/>
<line x1="375.2" y1="191.3" x2="379.5" y2="191.3" stroke="#000" stroke-opacity="0.42" stroke-width="1.1"/>
<text x="0.5" y="14.7" font-family="Liberation Serif, serif" font-size="18">(a) 1<tspan font-style="italic">Q</tspan> spiral</text>
<g font-family="Liberation Serif, serif" font-size="18" fill="#000">
<text x="33.8" y="53.6" text-anchor="end">4</text>
<text x="34.3" y="140.6" text-anchor="end">0</text>
<text x="35.5" y="227.6" text-anchor="end">-4</text>
<rect x="29.5" y="253.1" width="11" height="1.1"/>
<use href="#pi" transform="translate(42.9 249.40) scale(1.04 1.07)"/>
<text x="198.3" y="262.2" text-anchor="middle">0</text>
<use href="#pi" transform="translate(350.1 250.60) scale(1.04 1.07)"/>
<text x="199.5" y="279.8" text-anchor="middle" font-style="italic">k</text>
<text transform="translate(15.5 133.8) rotate(-90)" text-anchor="middle">Energy</text>
<text transform="translate(363 21.3) scale(1.22 1)" font-style="italic">σ</text>
<text transform="translate(374.2 13.0) scale(1.22 1)" font-size="13.5" font-style="italic">z</text>
<text x="394.9" y="32.6" text-anchor="end">1</text>
<text x="395.2" y="141.3" text-anchor="end">0</text>
<text x="396.6" y="250.7" text-anchor="end">-1</text>
</g>
<line x1="198" y1="311.5" x2="198" y2="532.3" stroke="#d2dada" stroke-width="1.6"/>
<g fill="none" stroke-width="1.8" stroke-linecap="butt"><path d="M40.0 342.90 L46.0 342.90 L52.0 342.90 L58.0 342.90 L64.0 342.90 L70.0 342.90 L76.0 342.90 L82.0 342.90 L88.0 342.90 L94.0 342.90 L100.0 342.90 L106.0 342.90 L112.0 342.90 L118.0 342.90 L124.0 342.90 L130.0 342.90 L136.0 342.90 L142.0 342.90 L148.0 342.90 L154.0 342.90 L160.0 342.90 L166.0 342.90 L172.0 342.90 L178.0 342.90 L184.0 342.90 L190.0 342.90 L196.0 342.90 L202.0 342.90 L208.0 342.90 L214.0 342.90 L220.0 342.90 L226.0 342.90 L232.0 342.90 L238.0 342.90 L244.0 342.90 L250.0 342.90 L256.0 342.90 L262.0 342.90 L268.0 342.90 L274.0 342.90 L280.0 342.90 L286.0 342.90 L292.0 342.90 L298.0 342.90 L304.0 342.90 L310.0 342.90 L316.0 342.90 L322.0 342.90 L328.0 342.90 L334.0 342.90 L340.0 342.90 L346.0 342.90 L352.0 342.90 L356.0 342.90" stroke="#c77e9e" stroke-width="3.4"/><path d="M40.0 354.50 L46.0 354.50 L52.0 354.50 L58.0 354.51 L64.0 354.51 L70.0 354.51 L76.0 354.51 L82.0 354.51 L88.0 354.52 L94.0 354.52 L100.0 354.52 L106.0 354.52 L112.0 354.52 L118.0 354.52 L124.0 354.53 L130.0 354.53 L136.0 354.53 L142.0 354.53 L148.0 354.53 L154.0 354.54 L160.0 354.54 L166.0 354.54 L172.0 354.54 L178.0 354.54 L184.0 354.55 L190.0 354.55 L196.0 354.55 L202.0 354.55 L208.0 354.55 L214.0 354.56 L220.0 354.56 L226.0 354.56 L232.0 354.56 L238.0 354.56 L244.0 354.56 L250.0 354.57 L256.0 354.57 L262.0 354.57 L268.0 354.57 L274.0 354.57 L280.0 354.58 L286.0 354.58 L292.0 354.58 L298.0 354.58 L304.0 354.58 L310.0 354.59 L316.0 354.59 L322.0 354.59 L328.0 354.59 L334.0 354.59 L340.0 354.59 L346.0 354.60 L352.0 354.60 L356.0 354.60" stroke="url(#pb1)" stroke-width="1.8"/><path d="M40.0 356.60 L46.0 356.59 L52.0 356.58 L58.0 356.57 L64.0 356.56 L70.0 356.55 L76.0 356.54 L82.0 356.53 L88.0 356.52 L94.0 356.51 L100.0 356.50 L106.0 356.46 L112.0 356.43 L118.0 356.39 L124.0 356.36 L130.0 356.32 L136.0 356.28 L142.0 356.25 L148.0 356.21 L154.0 356.18 L160.0 356.16 L166.0 356.13 L172.0 356.10 L178.0 356.08 L184.0 356.05 L190.0 356.02 L196.0 355.95 L202.0 355.67 L208.0 355.39 L214.0 355.24 L220.0 355.15 L226.0 355.06 L232.0 355.00 L238.0 355.00 L244.0 355.00 L250.0 355.00 L256.0 355.00 L262.0 355.00 L268.0 355.00 L274.0 355.00 L280.0 355.00 L286.0 355.00 L292.0 355.16 L298.0 355.64 L304.0 356.12 L310.0 356.60 L316.0 356.60 L322.0 356.60 L328.0 356.60 L334.0 356.60 L340.0 356.60 L346.0 356.60 L352.0 356.60 L356.0 356.60" stroke="url(#pb2)" stroke-width="1.8"/><path d="M40.0 358.40 L46.0 358.35 L52.0 358.30 L58.0 358.25 L64.0 358.20 L70.0 358.15 L76.0 358.10 L82.0 358.05 L88.0 358.00 L94.0 357.95 L100.0 357.90 L106.0 357.99 L112.0 358.08 L118.0 358.17 L124.0 358.26 L130.0 358.35 L136.0 358.44 L142.0 358.50 L148.0 358.51 L154.0 358.52 L160.0 358.53 L166.0 358.54 L172.0 358.55 L178.0 358.56 L184.0 358.57 L190.0 358.58 L196.0 358.59 L202.0 358.61 L208.0 358.64 L214.0 358.67 L220.0 358.70 L226.0 358.75 L232.0 358.79 L238.0 358.83 L244.0 358.88 L250.0 358.93 L256.0 358.97 L262.0 358.99 L268.0 358.96 L274.0 358.93 L280.0 358.90 L286.0 358.87 L292.0 358.84 L298.0 358.81 L304.0 358.77 L310.0 358.73 L316.0 358.69 L322.0 358.64 L328.0 358.60 L334.0 358.56 L340.0 358.51 L346.0 358.47 L352.0 358.43 L356.0 358.40" stroke="url(#pb3)" stroke-width="1.8"/><path d="M40.0 360.90 L46.0 360.91 L52.0 360.92 L58.0 360.93 L64.0 360.94 L70.0 360.95 L76.0 360.96 L82.0 360.97 L88.0 360.98 L94.0 360.99 L100.0 361.00 L106.0 361.00 L112.0 361.00 L118.0 361.00 L124.0 361.00 L130.0 361.00 L136.0 361.00 L142.0 361.00 L148.0 361.00 L154.0 361.00 L160.0 361.00 L166.0 361.00 L172.0 361.00 L178.0 361.00 L184.0 361.00 L190.0 361.00 L196.0 361.00 L202.0 360.99 L208.0 360.96 L214.0 360.93 L220.0 360.90 L226.0 360.87 L232.0 360.84 L238.0 360.81 L244.0 360.78 L250.0 360.75 L256.0 360.72 L262.0 360.70 L268.0 360.72 L274.0 360.74 L280.0 360.75 L286.0 360.76 L292.0 360.78 L298.0 360.80 L304.0 360.81 L310.0 360.82 L316.0 360.83 L322.0 360.84 L328.0 360.85 L334.0 360.86 L340.0 360.87 L346.0 360.88 L352.0 360.89 L356.0 360.90" stroke="url(#pb4)" stroke-width="1.8"/><path d="M40.0 368.80 L46.0 368.78 L52.0 368.76 L58.0 368.74 L64.0 368.72 L70.0 368.70 L76.0 368.68 L82.0 368.66 L88.0 368.64 L94.0 368.62 L100.0 368.60 L106.0 368.54 L112.0 368.48 L118.0 368.42 L124.0 368.36 L130.0 368.30 L136.0 368.24 L142.0 368.22 L148.0 368.30 L154.0 368.38 L160.0 368.45 L166.0 368.52 L172.0 368.60 L178.0 368.68 L184.0 368.75 L190.0 368.82 L196.0 368.90 L202.0 368.97 L208.0 369.05 L214.0 369.12 L220.0 369.20 L226.0 369.32 L232.0 369.44 L238.0 369.56 L244.0 369.68 L250.0 369.80 L256.0 369.92 L262.0 369.98 L268.0 369.92 L274.0 369.86 L280.0 369.80 L286.0 369.74 L292.0 369.68 L298.0 369.62 L304.0 369.52 L310.0 369.40 L316.0 369.28 L322.0 369.16 L328.0 369.04 L334.0 368.92 L340.0 368.80 L346.0 368.80 L352.0 368.80 L356.0 368.80" stroke="url(#pb5)" stroke-width="1.8"/><path d="M40.0 372.00 L46.0 372.07 L52.0 372.15 L58.0 372.23 L64.0 372.30 L70.0 372.38 L76.0 372.45 L82.0 372.50 L88.0 372.51 L94.0 372.52 L100.0 372.53 L106.0 372.54 L112.0 372.55 L118.0 372.56 L124.0 372.57 L130.0 372.58 L136.0 372.59 L142.0 372.57 L148.0 372.48 L154.0 372.39 L160.0 372.30 L166.0 372.21 L172.0 372.12 L178.0 372.03 L184.0 371.94 L190.0 371.85 L196.0 371.76 L202.0 371.67 L208.0 371.58 L214.0 371.49 L220.0 371.40 L226.0 371.28 L232.0 371.16 L238.0 371.04 L244.0 370.92 L250.0 370.80 L256.0 370.68 L262.0 370.62 L268.0 370.68 L274.0 370.74 L280.0 370.80 L286.0 370.86 L292.0 370.92 L298.0 370.98 L304.0 371.08 L310.0 371.20 L316.0 371.32 L322.0 371.44 L328.0 371.56 L334.0 371.68 L340.0 371.80 L346.0 371.88 L352.0 371.95 L356.0 372.00" stroke="url(#pb6)" stroke-width="1.8"/><path d="M40.0 375.00 L46.0 374.91 L52.0 374.82 L58.0 374.73 L64.0 374.64 L70.0 374.55 L76.0 374.46 L82.0 374.37 L88.0 374.28 L94.0 374.19 L100.0 374.10 L106.0 374.13 L112.0 374.16 L118.0 374.19 L124.0 374.22 L130.0 374.25 L136.0 374.28 L142.0 374.31 L148.0 374.36 L154.0 374.41 L160.0 374.45 L166.0 374.50 L172.0 374.54 L178.0 374.59 L184.0 374.64 L190.0 374.70 L196.0 374.76 L202.0 374.82 L208.0 374.88 L214.0 374.94 L220.0 375.00 L226.0 375.12 L232.0 375.24 L238.0 375.36 L244.0 375.48 L250.0 375.60 L256.0 375.72 L262.0 375.81 L268.0 375.84 L274.0 375.87 L280.0 375.90 L286.0 375.93 L292.0 375.96 L298.0 375.99 L304.0 375.93 L310.0 375.82 L316.0 375.72 L322.0 375.62 L328.0 375.51 L334.0 375.41 L340.0 375.30 L346.0 375.19 L352.0 375.07 L356.0 375.00" stroke="url(#pb7)" stroke-width="1.8"/><path d="M40.0 378.40 L46.0 378.46 L52.0 378.52 L58.0 378.58 L64.0 378.64 L70.0 378.70 L76.0 378.76 L82.0 378.82 L88.0 378.88 L94.0 378.94 L100.0 379.00 L106.0 379.07 L112.0 379.15 L118.0 379.23 L124.0 379.30 L130.0 379.38 L136.0 379.45 L142.0 379.52 L148.0 379.60 L154.0 379.68 L160.0 379.75 L166.0 379.82 L172.0 379.90 L178.0 379.98 L184.0 379.86 L190.0 379.65 L196.0 379.44 L202.0 379.23 L208.0 379.02 L214.0 378.81 L220.0 378.60 L226.0 378.51 L232.0 378.42 L238.0 378.33 L244.0 378.24 L250.0 378.15 L256.0 378.06 L262.0 377.98 L268.0 377.92 L274.0 377.86 L280.0 377.80 L286.0 377.74 L292.0 377.68 L298.0 377.62 L304.0 377.65 L310.0 377.73 L316.0 377.80 L322.0 377.88 L328.0 377.95 L334.0 378.03 L340.0 378.10 L346.0 378.21 L352.0 378.32 L356.0 378.40" stroke="url(#pb8)" stroke-width="1.8"/><path d="M40.0 382.30 L46.0 382.21 L52.0 382.12 L58.0 382.03 L64.0 381.94 L70.0 381.85 L76.0 381.76 L82.0 381.67 L88.0 381.58 L94.0 381.49 L100.0 381.40 L106.0 381.31 L112.0 381.22 L118.0 381.13 L124.0 381.04 L130.0 380.95 L136.0 380.86 L142.0 380.84 L148.0 380.96 L154.0 381.08 L160.0 381.20 L166.0 381.32 L172.0 381.44 L178.0 381.56 L184.0 381.58 L190.0 381.55 L196.0 381.52 L202.0 381.49 L208.0 381.46 L214.0 381.43 L220.0 381.40 L226.0 381.55 L232.0 381.70 L238.0 381.85 L244.0 382.00 L250.0 382.15 L256.0 382.30 L262.0 382.41 L268.0 382.44 L274.0 382.47 L280.0 382.50 L286.0 382.53 L292.0 382.56 L298.0 382.59 L304.0 382.64 L310.0 382.70 L316.0 382.76 L322.0 382.82 L328.0 382.88 L334.0 382.94 L340.0 383.00 L346.0 382.74 L352.0 382.48 L356.0 382.30" stroke="url(#pb9)" stroke-width="1.8"/><path d="M40.0 384.70 L46.0 384.78 L52.0 384.86 L58.0 384.94 L64.0 385.02 L70.0 385.10 L76.0 385.18 L82.0 385.26 L88.0 385.34 L94.0 385.42 L100.0 385.50 L106.0 385.57 L112.0 385.65 L118.0 385.73 L124.0 385.80 L130.0 385.88 L136.0 385.95 L142.0 386.05 L148.0 386.20 L154.0 386.35 L160.0 386.50 L166.0 386.65 L172.0 386.80 L178.0 386.95 L184.0 386.90 L190.0 386.75 L196.0 386.60 L202.0 386.45 L208.0 386.30 L214.0 386.15 L220.0 386.00 L226.0 385.85 L232.0 385.70 L238.0 385.55 L244.0 385.40 L250.0 385.25 L256.0 385.10 L262.0 384.99 L268.0 384.94 L274.0 384.89 L280.0 384.85 L286.0 384.81 L292.0 384.76 L298.0 384.71 L304.0 384.70 L310.0 384.70 L316.0 384.70 L322.0 384.70 L328.0 384.70 L334.0 384.70 L340.0 384.70 L346.0 384.70 L352.0 384.70 L356.0 384.70" stroke="url(#pb10)" stroke-width="1.8"/><path d="M40.0 389.30 L46.0 389.30 L52.0 389.30 L58.0 389.30 L64.0 389.30 L70.0 389.30 L76.0 389.30 L82.0 389.30 L88.0 389.30 L94.0 389.30 L100.0 389.30 L106.0 389.30 L112.0 389.30 L118.0 389.30 L124.0 389.30 L130.0 389.30 L136.0 389.30 L142.0 389.30 L148.0 389.30 L154.0 389.30 L160.0 389.30 L166.0 389.30 L172.0 389.30 L178.0 389.30 L184.0 389.30 L190.0 389.30 L196.0 389.30 L202.0 389.30 L208.0 389.30 L214.0 389.30 L220.0 389.30 L226.0 389.30 L232.0 389.30 L238.0 389.30 L244.0 389.30 L250.0 389.30 L256.0 389.30 L262.0 389.30 L268.0 389.30 L274.0 389.30 L280.0 389.30 L286.0 389.30 L292.0 389.30 L298.0 389.30 L304.0 389.30 L310.0 389.30 L316.0 389.30 L322.0 389.30 L328.0 389.30 L334.0 389.30 L340.0 389.30 L346.0 389.30 L352.0 389.30 L356.0 389.30" stroke="#c09bae" stroke-width="2.3"/><path d="M40.0 395.20 L46.0 395.20 L52.0 395.20 L58.0 395.20 L64.0 395.20 L70.0 395.20 L76.0 395.20 L82.0 395.20 L88.0 395.20 L94.0 395.20 L100.0 395.20 L106.0 395.20 L112.0 395.20 L118.0 395.20 L124.0 395.20 L130.0 395.20 L136.0 395.20 L142.0 395.20 L148.0 395.20 L154.0 395.20 L160.0 395.20 L166.0 395.20 L172.0 395.20 L178.0 395.20 L184.0 395.20 L190.0 395.20 L196.0 395.20 L202.0 395.20 L208.0 395.20 L214.0 395.20 L220.0 395.20 L226.0 395.20 L232.0 395.20 L238.0 395.20 L244.0 395.20 L250.0 395.20 L256.0 395.20 L262.0 395.20 L268.0 395.20 L274.0 395.20 L280.0 395.20 L286.0 395.20 L292.0 395.20 L298.0 395.20 L304.0 395.20 L310.0 395.20 L316.0 395.20 L322.0 395.20 L328.0 395.20 L334.0 395.20 L340.0 395.20 L346.0 395.20 L352.0 395.20 L356.0 395.20" stroke="#b8bdc0" stroke-width="4.4"/><path d="M40.0 448.50 L46.0 448.50 L52.0 448.50 L58.0 448.50 L64.0 448.50 L70.0 448.50 L76.0 448.50 L82.0 448.50 L88.0 448.50 L94.0 448.50 L100.0 448.50 L106.0 448.50 L112.0 448.50 L118.0 448.50 L124.0 448.50 L130.0 448.50 L136.0 448.50 L142.0 448.50 L148.0 448.50 L154.0 448.50 L160.0 448.50 L166.0 448.50 L172.0 448.50 L178.0 448.50 L184.0 448.50 L190.0 448.50 L196.0 448.50 L202.0 448.50 L208.0 448.50 L214.0 448.50 L220.0 448.50 L226.0 448.50 L232.0 448.50 L238.0 448.50 L244.0 448.50 L250.0 448.50 L256.0 448.50 L262.0 448.50 L268.0 448.50 L274.0 448.50 L280.0 448.50 L286.0 448.50 L292.0 448.50 L298.0 448.50 L304.0 448.50 L310.0 448.50 L316.0 448.50 L322.0 448.50 L328.0 448.50 L334.0 448.50 L340.0 448.50 L346.0 448.50 L352.0 448.50 L356.0 448.50" stroke="#b8bdc0" stroke-width="4.4"/><path d="M40.0 453.80 L46.0 453.78 L52.0 453.76 L58.0 453.73 L64.0 453.71 L70.0 453.69 L76.0 453.67 L82.0 453.64 L88.0 453.62 L94.0 453.60 L100.0 453.59 L106.0 453.57 L112.0 453.56 L118.0 453.54 L124.0 453.52 L130.0 453.51 L136.0 453.45 L142.0 453.29 L148.0 453.13 L154.0 452.98 L160.0 452.82 L166.0 452.66 L172.0 452.50 L178.0 452.43 L184.0 452.52 L190.0 452.61 L196.0 452.70 L202.0 452.79 L208.0 452.88 L214.0 452.97 L220.0 453.00 L226.0 453.00 L232.0 453.00 L238.0 453.00 L244.0 453.00 L250.0 453.00 L256.0 453.00 L262.0 453.09 L268.0 453.18 L274.0 453.27 L280.0 453.36 L286.0 453.45 L292.0 453.54 L298.0 453.61 L304.0 453.63 L310.0 453.65 L316.0 453.67 L322.0 453.69 L328.0 453.71 L334.0 453.73 L340.0 453.75 L346.0 453.77 L352.0 453.79 L356.0 453.80" stroke="#a8afcf" stroke-width="1.9"/><path d="M40.0 454.60 L46.0 454.64 L52.0 454.69 L58.0 454.73 L64.0 454.78 L70.0 454.82 L76.0 454.87 L82.0 454.91 L88.0 454.96 L94.0 455.00 L100.0 455.00 L106.0 455.00 L112.0 455.00 L118.0 455.00 L124.0 455.00 L130.0 455.00 L136.0 455.00 L142.0 455.00 L148.0 455.00 L154.0 455.00 L160.0 455.00 L166.0 455.00 L172.0 455.00 L178.0 455.07 L184.0 455.28 L190.0 455.49 L196.0 455.70 L202.0 455.91 L208.0 456.12 L214.0 456.33 L220.0 456.41 L226.0 456.42 L232.0 456.44 L238.0 456.45 L244.0 456.47 L250.0 456.49 L256.0 456.50 L262.0 456.27 L268.0 456.05 L274.0 455.82 L280.0 455.60 L286.0 455.38 L292.0 455.15 L298.0 454.99 L304.0 454.95 L310.0 454.91 L316.0 454.87 L322.0 454.83 L328.0 454.79 L334.0 454.75 L340.0 454.71 L346.0 454.67 L352.0 454.63 L356.0 454.60" stroke="url(#pb11)" stroke-width="1.9"/><path d="M40.0 459.20 L46.0 459.26 L52.0 459.31 L58.0 459.37 L64.0 459.42 L70.0 459.48 L76.0 459.53 L82.0 459.59 L88.0 459.64 L94.0 459.70 L100.0 459.59 L106.0 459.49 L112.0 459.38 L118.0 459.28 L124.0 459.18 L130.0 459.07 L136.0 458.95 L142.0 458.79 L148.0 458.63 L154.0 458.48 L160.0 458.32 L166.0 458.16 L172.0 458.00 L178.0 457.88 L184.0 457.84 L190.0 457.80 L196.0 457.75 L202.0 457.70 L208.0 457.66 L214.0 457.62 L220.0 457.56 L226.0 457.50 L232.0 457.44 L238.0 457.38 L244.0 457.32 L250.0 457.26 L256.0 457.20 L262.0 457.31 L268.0 457.41 L274.0 457.51 L280.0 457.62 L286.0 457.72 L292.0 457.83 L298.0 457.96 L304.0 458.16 L310.0 458.35 L316.0 458.55 L322.0 458.75 L328.0 458.94 L334.0 459.13 L340.0 459.20 L346.0 459.20 L352.0 459.20 L356.0 459.20" stroke="url(#pb12)" stroke-width="1.9"/><path d="M40.0 461.20 L46.0 461.20 L52.0 461.20 L58.0 461.20 L64.0 461.20 L70.0 461.20 L76.0 461.20 L82.0 461.20 L88.0 461.20 L94.0 461.20 L100.0 461.20 L106.0 461.20 L112.0 461.20 L118.0 461.20 L124.0 461.20 L130.0 461.20 L136.0 461.24 L142.0 461.37 L148.0 461.50 L154.0 461.63 L160.0 461.76 L166.0 461.89 L172.0 462.01 L178.0 462.12 L184.0 462.18 L190.0 462.24 L196.0 462.30 L202.0 462.36 L208.0 462.42 L214.0 462.48 L220.0 462.55 L226.0 462.62 L232.0 462.70 L238.0 462.77 L244.0 462.85 L250.0 462.93 L256.0 463.00 L262.0 462.89 L268.0 462.79 L274.0 462.69 L280.0 462.58 L286.0 462.48 L292.0 462.37 L298.0 462.25 L304.0 462.12 L310.0 461.99 L316.0 461.85 L322.0 461.71 L328.0 461.58 L334.0 461.44 L340.0 461.36 L346.0 461.30 L352.0 461.24 L356.0 461.20" stroke="url(#pb13)" stroke-width="1.8"/><path d="M40.0 465.70 L46.0 465.69 L52.0 465.68 L58.0 465.67 L64.0 465.66 L70.0 465.64 L76.0 465.63 L82.0 465.62 L88.0 465.61 L94.0 465.60 L100.0 465.66 L106.0 465.72 L112.0 465.78 L118.0 465.84 L124.0 465.90 L130.0 465.96 L136.0 465.95 L142.0 465.79 L148.0 465.63 L154.0 465.48 L160.0 465.32 L166.0 465.16 L172.0 465.00 L178.0 464.88 L184.0 464.82 L190.0 464.76 L196.0 464.70 L202.0 464.64 L208.0 464.58 L214.0 464.52 L220.0 464.47 L226.0 464.43 L232.0 464.38 L238.0 464.33 L244.0 464.29 L250.0 464.25 L256.0 464.20 L262.0 464.27 L268.0 464.35 L274.0 464.43 L280.0 464.50 L286.0 464.57 L292.0 464.65 L298.0 464.72 L304.0 464.78 L310.0 464.84 L316.0 464.90 L322.0 464.96 L328.0 465.02 L334.0 465.08 L340.0 465.22 L346.0 465.40 L352.0 465.58 L356.0 465.70" stroke="url(#pb14)" stroke-width="1.8"/><path d="M40.0 468.30 L46.0 468.24 L52.0 468.19 L58.0 468.13 L64.0 468.08 L70.0 468.02 L76.0 467.97 L82.0 467.91 L88.0 467.86 L94.0 467.80 L100.0 467.86 L106.0 467.92 L112.0 467.98 L118.0 468.04 L124.0 468.10 L130.0 468.16 L136.0 468.21 L142.0 468.26 L148.0 468.30 L154.0 468.34 L160.0 468.39 L166.0 468.43 L172.0 468.47 L178.0 468.54 L184.0 468.64 L190.0 468.75 L196.0 468.85 L202.0 468.95 L208.0 469.06 L214.0 469.16 L220.0 469.26 L226.0 469.35 L232.0 469.44 L238.0 469.53 L244.0 469.62 L250.0 469.71 L256.0 469.80 L262.0 469.83 L268.0 469.86 L274.0 469.89 L280.0 469.92 L286.0 469.95 L292.0 469.98 L298.0 469.94 L304.0 469.74 L310.0 469.55 L316.0 469.35 L322.0 469.15 L328.0 468.96 L334.0 468.76 L340.0 468.62 L346.0 468.50 L352.0 468.38 L356.0 468.30" stroke="url(#pb15)" stroke-width="1.8"/><path d="M40.0 472.20 L46.0 472.24 L52.0 472.29 L58.0 472.33 L64.0 472.38 L70.0 472.42 L76.0 472.47 L82.0 472.51 L88.0 472.56 L94.0 472.60 L100.0 472.72 L106.0 472.84 L112.0 472.96 L118.0 473.08 L124.0 473.20 L130.0 473.32 L136.0 473.38 L142.0 473.30 L148.0 473.23 L154.0 473.16 L160.0 473.09 L166.0 473.02 L172.0 472.95 L178.0 472.83 L184.0 472.64 L190.0 472.44 L196.0 472.25 L202.0 472.06 L208.0 471.86 L214.0 471.67 L220.0 471.60 L226.0 471.60 L232.0 471.60 L238.0 471.60 L244.0 471.60 L250.0 471.60 L256.0 471.60 L262.0 471.66 L268.0 471.72 L274.0 471.78 L280.0 471.84 L286.0 471.90 L292.0 471.96 L298.0 471.99 L304.0 471.96 L310.0 471.93 L316.0 471.90 L322.0 471.87 L328.0 471.84 L334.0 471.81 L340.0 471.88 L346.0 472.00 L352.0 472.12 L356.0 472.20" stroke="url(#pb16)" stroke-width="1.8"/><path d="M40.0 474.90 L46.0 474.90 L52.0 474.90 L58.0 474.90 L64.0 474.90 L70.0 474.90 L76.0 474.90 L82.0 474.90 L88.0 474.90 L94.0 474.90 L100.0 474.79 L106.0 474.69 L112.0 474.58 L118.0 474.48 L124.0 474.38 L130.0 474.27 L136.0 474.17 L142.0 474.09 L148.0 474.00 L154.0 473.91 L160.0 473.83 L166.0 473.74 L172.0 473.66 L178.0 473.64 L184.0 473.76 L190.0 473.88 L196.0 474.00 L202.0 474.12 L208.0 474.24 L214.0 474.36 L220.0 474.46 L226.0 474.55 L232.0 474.64 L238.0 474.73 L244.0 474.82 L250.0 474.91 L256.0 475.00 L262.0 475.00 L268.0 475.00 L274.0 475.00 L280.0 475.00 L286.0 475.00 L292.0 475.00 L298.0 474.97 L304.0 474.88 L310.0 474.79 L316.0 474.70 L322.0 474.61 L328.0 474.52 L334.0 474.43 L340.0 474.50 L346.0 474.65 L352.0 474.80 L356.0 474.90" stroke="url(#pb17)" stroke-width="1.8"/><path d="M40.0 485.90 L46.0 485.82 L52.0 485.74 L58.0 485.67 L64.0 485.59 L70.0 485.51 L76.0 485.43 L82.0 485.36 L88.0 485.28 L94.0 485.20 L100.0 485.23 L106.0 485.26 L112.0 485.29 L118.0 485.32 L124.0 485.35 L130.0 485.38 L136.0 485.40 L142.0 485.42 L148.0 485.43 L154.0 485.45 L160.0 485.46 L166.0 485.48 L172.0 485.49 L178.0 485.49 L184.0 485.46 L190.0 485.43 L196.0 485.40 L202.0 485.37 L208.0 485.34 L214.0 485.31 L220.0 485.27 L226.0 485.23 L232.0 485.18 L238.0 485.13 L244.0 485.09 L250.0 485.05 L256.0 485.00 L262.0 485.03 L268.0 485.06 L274.0 485.09 L280.0 485.12 L286.0 485.15 L292.0 485.18 L298.0 485.25 L304.0 485.38 L310.0 485.51 L316.0 485.65 L322.0 485.79 L328.0 485.92 L334.0 486.06 L340.0 486.06 L346.0 486.00 L352.0 485.94 L356.0 485.90" stroke="url(#pb18)" stroke-width="1.5"/><path d="M40.0 482.80 L46.0 482.82 L52.0 482.84 L58.0 482.87 L64.0 482.89 L70.0 482.91 L76.0 482.93 L82.0 482.96 L88.0 482.98 L94.0 483.00 L100.0 483.07 L106.0 483.15 L112.0 483.23 L118.0 483.30 L124.0 483.38 L130.0 483.45 L136.0 483.51 L142.0 483.54 L148.0 483.57 L154.0 483.60 L160.0 483.62 L166.0 483.65 L172.0 483.68 L178.0 483.66 L184.0 483.56 L190.0 483.45 L196.0 483.35 L202.0 483.25 L208.0 483.14 L214.0 483.04 L220.0 482.95 L226.0 482.88 L232.0 482.80 L238.0 482.73 L244.0 482.65 L250.0 482.57 L256.0 482.50 L262.0 482.55 L268.0 482.59 L274.0 482.63 L280.0 482.68 L286.0 482.73 L292.0 482.77 L298.0 482.80 L304.0 482.80 L310.0 482.80 L316.0 482.80 L322.0 482.80 L328.0 482.80 L334.0 482.80 L340.0 482.80 L346.0 482.80 L352.0 482.80 L356.0 482.80" stroke="url(#pb19)" stroke-width="1.9"/><path d="M40.0 487.70 L46.0 487.62 L52.0 487.54 L58.0 487.47 L64.0 487.39 L70.0 487.31 L76.0 487.23 L82.0 487.16 L88.0 487.08 L94.0 487.00 L100.0 487.03 L106.0 487.06 L112.0 487.09 L118.0 487.12 L124.0 487.15 L130.0 487.18 L136.0 487.24 L142.0 487.35 L148.0 487.47 L154.0 487.58 L160.0 487.70 L166.0 487.81 L172.0 487.92 L178.0 487.98 L184.0 487.92 L190.0 487.86 L196.0 487.80 L202.0 487.74 L208.0 487.68 L214.0 487.62 L220.0 487.60 L226.0 487.60 L232.0 487.60 L238.0 487.60 L244.0 487.60 L250.0 487.60 L256.0 487.60 L262.0 487.60 L268.0 487.60 L274.0 487.60 L280.0 487.60 L286.0 487.60 L292.0 487.60 L298.0 487.61 L304.0 487.62 L310.0 487.63 L316.0 487.65 L322.0 487.67 L328.0 487.68 L334.0 487.69 L340.0 487.70 L346.0 487.70 L352.0 487.70 L356.0 487.70" stroke="url(#pb20)" stroke-width="1.8"/><path d="M40.0 489.60 L46.0 489.60 L52.0 489.60 L58.0 489.60 L64.0 489.60 L70.0 489.60 L76.0 489.60 L82.0 489.60 L88.0 489.60 L94.0 489.60 L100.0 489.60 L106.0 489.60 L112.0 489.60 L118.0 489.60 L124.0 489.60 L130.0 489.60 L136.0 489.57 L142.0 489.49 L148.0 489.40 L154.0 489.31 L160.0 489.23 L166.0 489.14 L172.0 489.06 L178.0 488.98 L184.0 488.92 L190.0 488.86 L196.0 488.80 L202.0 488.74 L208.0 488.68 L214.0 488.62 L220.0 488.61 L226.0 488.62 L232.0 488.64 L238.0 488.66 L244.0 488.67 L250.0 488.69 L256.0 488.70 L262.0 488.69 L268.0 488.67 L274.0 488.66 L280.0 488.64 L286.0 488.62 L292.0 488.61 L298.0 488.65 L304.0 488.80 L310.0 488.95 L316.0 489.10 L322.0 489.25 L328.0 489.40 L334.0 489.55 L340.0 489.60 L346.0 489.60 L352.0 489.60 L356.0 489.60" stroke="#6c72f2" stroke-width="1.9"/><path d="M40.0 499.80 L46.0 499.80 L52.0 499.80 L58.0 499.80 L64.0 499.80 L70.0 499.80 L76.0 499.80 L82.0 499.80 L88.0 499.80 L94.0 499.80 L100.0 499.80 L106.0 499.80 L112.0 499.80 L118.0 499.80 L124.0 499.80 L130.0 499.80 L136.0 499.80 L142.0 499.80 L148.0 499.80 L154.0 499.80 L160.0 499.80 L166.0 499.80 L172.0 499.80 L178.0 499.80 L184.0 499.80 L190.0 499.80 L196.0 499.80 L202.0 499.80 L208.0 499.80 L214.0 499.80 L220.0 499.80 L226.0 499.80 L232.0 499.80 L238.0 499.80 L244.0 499.80 L250.0 499.80 L256.0 499.80 L262.0 499.80 L268.0 499.80 L274.0 499.80 L280.0 499.80 L286.0 499.80 L292.0 499.80 L298.0 499.80 L304.0 499.80 L310.0 499.80 L316.0 499.80 L322.0 499.80 L328.0 499.80 L334.0 499.80 L340.0 499.80 L346.0 499.80 L352.0 499.80 L356.0 499.80" stroke="url(#pb21)" stroke-width="1.9"/><path d="M40.0 501.50 L46.0 501.50 L52.0 501.50 L58.0 501.50 L64.0 501.50 L70.0 501.50 L76.0 501.50 L82.0 501.50 L88.0 501.50 L94.0 501.50 L100.0 501.50 L106.0 501.50 L112.0 501.50 L118.0 501.50 L124.0 501.50 L130.0 501.50 L136.0 501.50 L142.0 501.50 L148.0 501.50 L154.0 501.50 L160.0 501.50 L166.0 501.50 L172.0 501.50 L178.0 501.50 L184.0 501.50 L190.0 501.50 L196.0 501.50 L202.0 501.50 L208.0 501.50 L214.0 501.50 L220.0 501.50 L226.0 501.50 L232.0 501.50 L238.0 501.50 L244.0 501.50 L250.0 501.50 L256.0 501.50 L262.0 501.50 L268.0 501.50 L274.0 501.50 L280.0 501.50 L286.0 501.50 L292.0 501.50 L298.0 501.50 L304.0 501.50 L310.0 501.50 L316.0 501.50 L322.0 501.50 L328.0 501.50 L334.0 501.50 L340.0 501.50 L346.0 501.50 L352.0 501.50 L356.0 501.50" stroke="#7c83ec" stroke-width="1.9"/></g>
<line x1="40.5" y1="510.1" x2="44.5" y2="510.1" stroke="#a8b4b4" stroke-width="0.9"/>
<line x1="351.5" y1="510.1" x2="355.5" y2="510.1" stroke="#a8b4b4" stroke-width="0.9"/>
<line x1="40.5" y1="488.1" x2="42.1" y2="488.1" stroke="#a8b4b4" stroke-width="0.9"/>
<line x1="353.9" y1="488.1" x2="355.5" y2="488.1" stroke="#a8b4b4" stroke-width="0.9"/>
<line x1="40.5" y1="466.1" x2="42.1" y2="466.1" stroke="#a8b4b4" stroke-width="0.9"/>
<line x1="353.9" y1="466.1" x2="355.5" y2="466.1" stroke="#a8b4b4" stroke-width="0.9"/>
<line x1="40.5" y1="444.1" x2="42.1" y2="444.1" stroke="#a8b4b4" stroke-width="0.9"/>
<line x1="353.9" y1="444.1" x2="355.5" y2="444.1" stroke="#a8b4b4" stroke-width="0.9"/>
<line x1="40.5" y1="422.1" x2="44.5" y2="422.1" stroke="#a8b4b4" stroke-width="0.9"/>
<line x1="351.5" y1="422.1" x2="355.5" y2="422.1" stroke="#a8b4b4" stroke-width="0.9"/>
<line x1="40.5" y1="400.1" x2="42.1" y2="400.1" stroke="#a8b4b4" stroke-width="0.9"/>
<line x1="353.9" y1="400.1" x2="355.5" y2="400.1" stroke="#a8b4b4" stroke-width="0.9"/>
<line x1="40.5" y1="378.1" x2="42.1" y2="378.1" stroke="#a8b4b4" stroke-width="0.9"/>
<line x1="353.9" y1="378.1" x2="355.5" y2="378.1" stroke="#a8b4b4" stroke-width="0.9"/>
<line x1="40.5" y1="356.1" x2="42.1" y2="356.1" stroke="#a8b4b4" stroke-width="0.9"/>
<line x1="353.9" y1="356.1" x2="355.5" y2="356.1" stroke="#a8b4b4" stroke-width="0.9"/>
<line x1="40.5" y1="334.1" x2="44.5" y2="334.1" stroke="#a8b4b4" stroke-width="0.9"/>
<line x1="351.5" y1="334.1" x2="355.5" y2="334.1" stroke="#a8b4b4" stroke-width="0.9"/>
<line x1="40.5" y1="312.1" x2="42.1" y2="312.1" stroke="#a8b4b4" stroke-width="0.9"/>
<line x1="353.9" y1="312.1" x2="355.5" y2="312.1" stroke="#a8b4b4" stroke-width="0.9"/>
<rect x="40.5" y="311.5" width="315" height="220.8" fill="none" stroke="#26353a" stroke-opacity="0.66" stroke-width="1"/>
<rect x="363.1" y="311.9" width="16.4" height="220.4" fill="url(#cb2)" stroke="#7a8888" stroke-opacity="0.6" stroke-width="0.6"/>
<line x1="363.1" y1="366.5" x2="366.9" y2="366.5" stroke="#000" stroke-opacity="0.42" stroke-width="1.1"/>
<line x1="375.2" y1="366.5" x2="379.5" y2="366.5" stroke="#000" stroke-opacity="0.42" stroke-width="1.1"/>
<line x1="363.1" y1="422.2" x2="366.9" y2="422.2" stroke="#000" stroke-opacity="0.42" stroke-width="1.1"/>
<line x1="375.2" y1="422.2" x2="379.5" y2="422.2" stroke="#000" stroke-opacity="0.42" stroke-width="1.1"/>
<line x1="363.1" y1="477.4" x2="366.9" y2="477.4" stroke="#000" stroke-opacity="0.42" stroke-width="1.1"/>
<line x1="375.2" y1="477.4" x2="379.5" y2="477.4" stroke="#000" stroke-opacity="0.42" stroke-width="1.1"/>
<text x="0.5" y="301.7" font-family="Liberation Serif, serif" font-size="18">(b) 2<tspan font-style="italic">Q</tspan></text>
<g font-family="Liberation Serif, serif" font-size="18" fill="#000">
<text x="33.8" y="340.8" text-anchor="end">4</text>
<text x="34.3" y="427.3" text-anchor="end">0</text>
<text x="35.5" y="516.3" text-anchor="end">-4</text>
<rect x="29.5" y="539.8" width="11" height="1.1"/>
<use href="#pi" transform="translate(42.9 536.10) scale(1.04 1.07)"/>
<text x="198.3" y="548.1" text-anchor="middle">0</text>
<use href="#pi" transform="translate(350.1 537.30) scale(1.04 1.07)"/>
<text x="199.5" y="566.5" text-anchor="middle" font-style="italic">k</text>
<text transform="translate(15.5 420.5) rotate(-90)" text-anchor="middle">Energy</text>
<text transform="translate(363 308.0) scale(1.22 1)" font-style="italic">σ</text>
<text transform="translate(374.2 299.7) scale(1.22 1)" font-size="13.5" font-style="italic">z</text>
<text x="394.9" y="319.8" text-anchor="end">1</text>
<text x="395.2" y="428.7" text-anchor="end">0</text>
<text x="396.6" y="538.7" text-anchor="end">-1</text>
</g>
</svg>
</body></html>
